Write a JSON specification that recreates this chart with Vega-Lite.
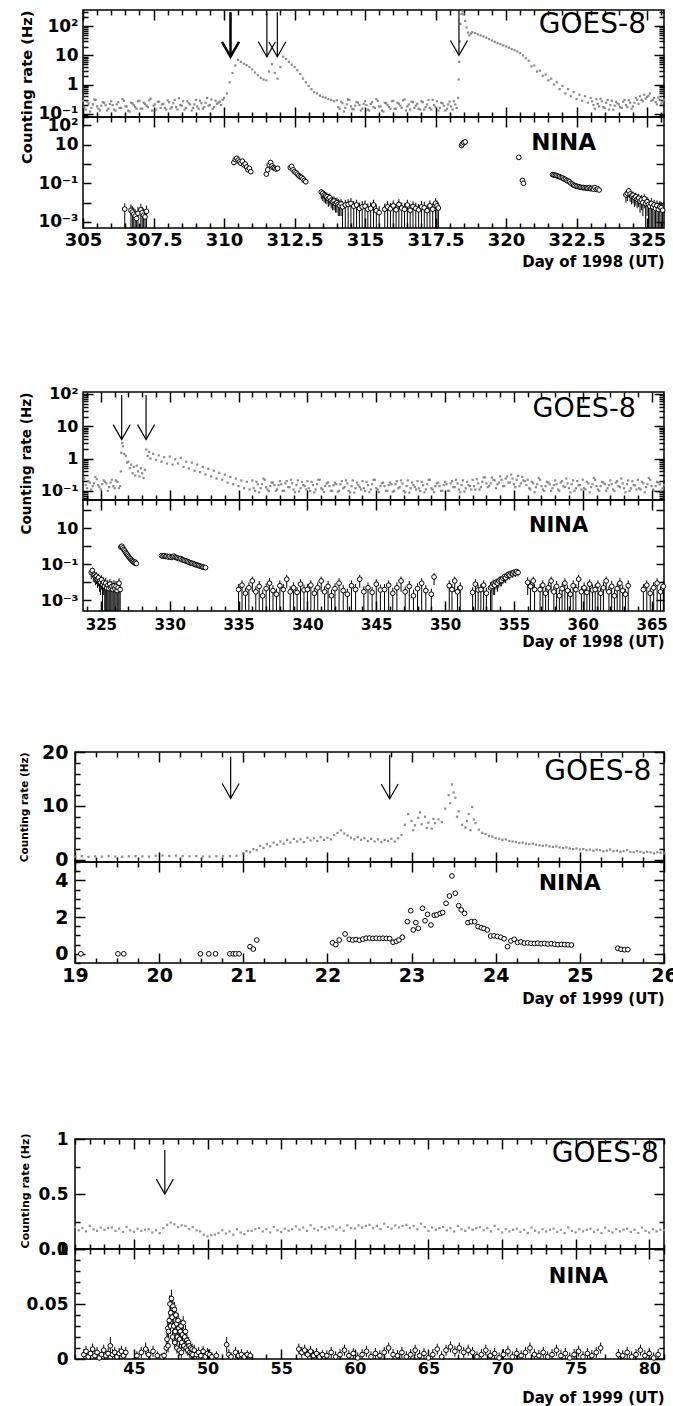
{
"$schema":"https://vega.github.io/schema/vega-lite/v6.json",
"background":"white",
"padding":{"left":17,"top":2,"right":0,"bottom":0},
"config":{"view":{"stroke":"black","strokeWidth":1.5},"axis":{"domain":false,"grid":false,"ticks":true,"tickColor":"black","tickWidth":1.5,"tickOpacity":1,"zindex":1,"labelColor":"black","titleColor":"black","labelFont":"DejaVu Sans","titleFont":"DejaVu Sans","labelFontWeight":"bold","titleFontWeight":"bold","labelOverlap":false,"labelFlush":false,"labelBound":false}},
"datasets":{
"g1":[{"d":305.0,"r":0.28},{"d":305.1,"r":0.14},{"d":305.2,"r":0.22},{"d":305.3,"r":0.16},{"d":305.4,"r":0.31},{"d":305.5,"r":0.18},{"d":305.6,"r":0.13},{"d":305.7,"r":0.25},{"d":305.8,"r":0.2},{"d":305.9,"r":0.15},{"d":306.0,"r":0.27},{"d":306.1,"r":0.14},{"d":306.2,"r":0.21},{"d":306.3,"r":0.16},{"d":306.4,"r":0.32},{"d":306.5,"r":0.18},{"d":306.6,"r":0.13},{"d":306.7,"r":0.24},{"d":306.8,"r":0.2},{"d":306.9,"r":0.15},{"d":307.0,"r":0.28},{"d":307.1,"r":0.15},{"d":307.2,"r":0.22},{"d":307.3,"r":0.17},{"d":307.4,"r":0.33},{"d":307.5,"r":0.19},{"d":307.6,"r":0.14},{"d":307.7,"r":0.26},{"d":307.8,"r":0.21},{"d":307.9,"r":0.16},{"d":308.0,"r":0.29},{"d":308.1,"r":0.15},{"d":308.2,"r":0.23},{"d":308.3,"r":0.17},{"d":308.4,"r":0.34},{"d":308.5,"r":0.19},{"d":308.6,"r":0.14},{"d":308.7,"r":0.27},{"d":308.8,"r":0.21},{"d":308.9,"r":0.16},{"d":309.0,"r":0.3},{"d":309.1,"r":0.15},{"d":309.2,"r":0.23},{"d":309.3,"r":0.17},{"d":309.4,"r":0.35},{"d":309.5,"r":0.2},{"d":309.6,"r":0.15},{"d":309.7,"r":0.28},{"d":309.8,"r":0.24},{"d":309.9,"r":0.2},{"d":310.0,"r":0.35},{"d":310.1,"r":0.5},{"d":310.2,"r":1.2},{"d":310.3,"r":2.5},{"d":310.4,"r":4.5},{"d":310.5,"r":7},{"d":310.6,"r":6},{"d":310.7,"r":5.2},{"d":310.8,"r":4.6},{"d":310.9,"r":4},{"d":311.0,"r":3.3},{"d":311.1,"r":2.6},{"d":311.2,"r":2.1},{"d":311.3,"r":1.7},{"d":311.4,"r":1.5},{"d":311.5,"r":1.4},{"d":311.6,"r":2.8},{"d":311.7,"r":5},{"d":311.8,"r":2.5},{"d":311.9,"r":1.6},{"d":312.0,"r":4},{"d":312.1,"r":9},{"d":312.2,"r":7.5},{"d":312.3,"r":6},{"d":312.4,"r":4.8},{"d":312.5,"r":4},{"d":312.6,"r":3.1},{"d":312.7,"r":2.3},{"d":312.8,"r":1.6},{"d":312.9,"r":1.2},{"d":313.0,"r":0.9},{"d":313.1,"r":0.7},{"d":313.2,"r":0.55},{"d":313.3,"r":0.5},{"d":313.4,"r":0.42},{"d":313.5,"r":0.38},{"d":313.6,"r":0.36},{"d":313.7,"r":0.32},{"d":313.8,"r":0.3},{"d":313.9,"r":0.27},{"d":314.0,"r":0.29},{"d":314.1,"r":0.15},{"d":314.2,"r":0.23},{"d":314.3,"r":0.16},{"d":314.4,"r":0.31},{"d":314.5,"r":0.18},{"d":314.6,"r":0.14},{"d":314.7,"r":0.25},{"d":314.8,"r":0.2},{"d":314.9,"r":0.15},{"d":315.0,"r":0.27},{"d":315.1,"r":0.14},{"d":315.2,"r":0.22},{"d":315.3,"r":0.17},{"d":315.4,"r":0.32},{"d":315.5,"r":0.18},{"d":315.6,"r":0.13},{"d":315.7,"r":0.24},{"d":315.8,"r":0.2},{"d":315.9,"r":0.15},{"d":316.0,"r":0.28},{"d":316.1,"r":0.15},{"d":316.2,"r":0.22},{"d":316.3,"r":0.16},{"d":316.4,"r":0.31},{"d":316.5,"r":0.18},{"d":316.6,"r":0.14},{"d":316.7,"r":0.25},{"d":316.8,"r":0.19},{"d":316.9,"r":0.15},{"d":317.0,"r":0.27},{"d":317.1,"r":0.14},{"d":317.2,"r":0.21},{"d":317.3,"r":0.16},{"d":317.4,"r":0.3},{"d":317.5,"r":0.17},{"d":317.6,"r":0.13},{"d":317.7,"r":0.24},{"d":317.8,"r":0.19},{"d":317.9,"r":0.15},{"d":318.0,"r":0.26},{"d":318.1,"r":0.14},{"d":318.2,"r":0.21},{"d":318.3,"r":0.35},{"d":318.32,"r":1.5},{"d":318.34,"r":6},{"d":318.36,"r":30},{"d":318.38,"r":120},{"d":318.42,"r":260},{"d":318.46,"r":320},{"d":318.5,"r":250},{"d":318.55,"r":150},{"d":318.6,"r":90},{"d":318.65,"r":60},{"d":318.7,"r":48},{"d":318.75,"r":55},{"d":318.8,"r":62},{"d":318.9,"r":58},{"d":319.0,"r":52},{"d":319.1,"r":48},{"d":319.2,"r":44},{"d":319.3,"r":40},{"d":319.4,"r":36},{"d":319.5,"r":32},{"d":319.6,"r":29},{"d":319.7,"r":26},{"d":319.8,"r":24},{"d":319.9,"r":22},{"d":320.0,"r":20},{"d":320.1,"r":18.5},{"d":320.2,"r":16.5},{"d":320.3,"r":15},{"d":320.4,"r":13.5},{"d":320.5,"r":12},{"d":320.6,"r":10},{"d":320.7,"r":8},{"d":320.8,"r":6.5},{"d":320.9,"r":4.2},{"d":321.0,"r":4.5},{"d":321.1,"r":2.8},{"d":321.2,"r":3},{"d":321.3,"r":2},{"d":321.4,"r":2.2},{"d":321.5,"r":1.4},{"d":321.6,"r":1.6},{"d":321.7,"r":1},{"d":321.8,"r":1.2},{"d":321.9,"r":0.7},{"d":322.0,"r":0.9},{"d":322.1,"r":0.5},{"d":322.2,"r":0.7},{"d":322.3,"r":0.4},{"d":322.4,"r":0.55},{"d":322.5,"r":0.32},{"d":322.6,"r":0.45},{"d":322.7,"r":0.28},{"d":322.8,"r":0.4},{"d":322.9,"r":0.24},{"d":323.0,"r":0.35},{"d":323.1,"r":0.2},{"d":323.2,"r":0.32},{"d":323.3,"r":0.18},{"d":323.4,"r":0.27},{"d":323.5,"r":0.16},{"d":323.6,"r":0.3},{"d":323.7,"r":0.2},{"d":323.8,"r":0.14},{"d":323.9,"r":0.26},{"d":324.0,"r":0.21},{"d":324.1,"r":0.16},{"d":324.2,"r":0.3},{"d":324.3,"r":0.17},{"d":324.4,"r":0.24},{"d":324.5,"r":0.18},{"d":324.6,"r":0.35},{"d":324.7,"r":0.22},{"d":324.8,"r":0.3},{"d":324.9,"r":0.45},{"d":325.0,"r":0.38},{"d":325.1,"r":0.5},{"d":325.2,"r":0.3},{"d":325.3,"r":0.25},{"d":325.4,"r":0.36},{"d":325.5,"r":0.22},{"d":325.6,"r":0.3},
{"d":305.05,"r":0.17},{"d":305.15,"r":0.26},{"d":305.25,"r":0.12},{"d":305.35,"r":0.21},{"d":305.45,"r":0.3},{"d":305.55,"r":0.15},{"d":305.65,"r":0.19},{"d":305.75,"r":0.24},{"d":305.85,"r":0.13},{"d":305.95,"r":0.22},{"d":306.05,"r":0.2},{"d":306.15,"r":0.13},{"d":306.25,"r":0.25},{"d":306.35,"r":0.16},{"d":306.45,"r":0.28},{"d":306.55,"r":0.18},{"d":306.65,"r":0.12},{"d":306.75,"r":0.23},{"d":306.85,"r":0.17},{"d":306.95,"r":0.27},{"d":307.05,"r":0.15},{"d":307.15,"r":0.24},{"d":307.25,"r":0.19},{"d":307.35,"r":0.29},{"d":307.45,"r":0.13},{"d":307.55,"r":0.21},{"d":307.65,"r":0.26},{"d":307.75,"r":0.16},{"d":307.85,"r":0.22},{"d":307.95,"r":0.14},{"d":308.05,"r":0.25},{"d":308.15,"r":0.17},{"d":308.25,"r":0.3},{"d":308.35,"r":0.14},{"d":308.45,"r":0.2},{"d":308.55,"r":0.27},{"d":308.65,"r":0.16},{"d":308.75,"r":0.23},{"d":308.85,"r":0.13},{"d":308.95,"r":0.21},{"d":309.05,"r":0.18},{"d":309.15,"r":0.28},{"d":309.25,"r":0.15},{"d":309.35,"r":0.24},{"d":309.45,"r":0.19},{"d":309.55,"r":0.31},{"d":309.65,"r":0.17},{"d":309.75,"r":0.22},{"d":309.85,"r":0.26},{"d":309.95,"r":0.3},
{"d":314.05,"r":0.17},{"d":314.15,"r":0.26},{"d":314.25,"r":0.12},{"d":314.35,"r":0.21},{"d":314.45,"r":0.3},{"d":314.55,"r":0.15},{"d":314.65,"r":0.19},{"d":314.75,"r":0.24},{"d":314.85,"r":0.13},{"d":314.95,"r":0.22},{"d":315.05,"r":0.2},{"d":315.15,"r":0.13},{"d":315.25,"r":0.25},{"d":315.35,"r":0.16},{"d":315.45,"r":0.28},{"d":315.55,"r":0.18},{"d":315.65,"r":0.12},{"d":315.75,"r":0.23},{"d":315.85,"r":0.17},{"d":315.95,"r":0.27},{"d":316.05,"r":0.15},{"d":316.15,"r":0.24},{"d":316.25,"r":0.19},{"d":316.35,"r":0.29},{"d":316.45,"r":0.13},{"d":316.55,"r":0.21},{"d":316.65,"r":0.26},{"d":316.75,"r":0.16},{"d":316.85,"r":0.22},{"d":316.95,"r":0.14},{"d":317.05,"r":0.25},{"d":317.15,"r":0.17},{"d":317.25,"r":0.3},{"d":317.35,"r":0.14},{"d":317.45,"r":0.2},{"d":317.55,"r":0.27},{"d":317.65,"r":0.16},{"d":317.75,"r":0.23},{"d":317.85,"r":0.13},{"d":317.95,"r":0.21},{"d":318.05,"r":0.18},{"d":318.15,"r":0.27},{"d":318.25,"r":0.16},
{"d":323.05,"r":0.27},{"d":323.15,"r":0.15},{"d":323.25,"r":0.22},{"d":323.35,"r":0.33},{"d":323.45,"r":0.17},{"d":323.55,"r":0.24},{"d":323.65,"r":0.14},{"d":323.75,"r":0.28},{"d":323.85,"r":0.19},{"d":323.95,"r":0.23},{"d":324.05,"r":0.17},{"d":324.15,"r":0.26},{"d":324.25,"r":0.2},{"d":324.35,"r":0.29},{"d":324.45,"r":0.15},{"d":324.55,"r":0.24},{"d":324.65,"r":0.3},{"d":324.75,"r":0.4},{"d":324.85,"r":0.27},{"d":324.95,"r":0.33},{"d":325.05,"r":0.42},{"d":325.15,"r":0.28},{"d":325.25,"r":0.35},{"d":325.35,"r":0.21},{"d":325.45,"r":0.3},{"d":325.55,"r":0.26}],
"n1":[{"d":306.48,"r":0.0046,"lo":0.0001,"hi":0.009},{"d":306.7,"r":0.004,"lo":0.0001,"hi":0.008},{"d":306.75,"r":0.0032,"lo":0.0001,"hi":0.0065},{"d":306.8,"r":0.0025,"lo":0.0001,"hi":0.0055},{"d":306.85,"r":0.002,"lo":0.0001,"hi":0.0045},{"d":306.9,"r":0.0015,"lo":0.0001,"hi":0.0035},{"d":306.95,"r":0.0028,"lo":0.0001,"hi":0.006},{"d":307.05,"r":0.0042,"lo":0.0001,"hi":0.0085},{"d":307.1,"r":0.003,"lo":0.0001,"hi":0.006},{"d":307.15,"r":0.0022,"lo":0.0001,"hi":0.005},{"d":307.2,"r":0.0018,"lo":0.0001,"hi":0.004},{"d":307.25,"r":0.0035,"lo":0.0001,"hi":0.007},
{"d":310.35,"r":1.2},{"d":310.4,"r":1.7},{"d":310.45,"r":2.0},{"d":310.5,"r":1.6},{"d":310.55,"r":1.3},{"d":310.6,"r":1.1},{"d":310.65,"r":1.4},{"d":310.7,"r":0.9},{"d":310.75,"r":1.0},{"d":310.8,"r":0.7},{"d":310.85,"r":0.5},{"d":310.9,"r":0.6},{"d":310.95,"r":0.4},
{"d":311.5,"r":0.3},{"d":311.55,"r":0.5},{"d":311.6,"r":0.9},{"d":311.65,"r":1.2},{"d":311.7,"r":0.8},{"d":311.75,"r":0.65},{"d":311.8,"r":0.6},{"d":311.85,"r":0.55},{"d":311.9,"r":0.6},
{"d":312.35,"r":0.65},{"d":312.4,"r":0.75},{"d":312.45,"r":0.5},{"d":312.5,"r":0.4},{"d":312.55,"r":0.35},{"d":312.6,"r":0.3},{"d":312.65,"r":0.25},{"d":312.7,"r":0.22},{"d":312.75,"r":0.2},{"d":312.8,"r":0.17},{"d":312.85,"r":0.14},{"d":312.9,"r":0.12},
{"d":313.45,"r":0.035,"lo":0.015,"hi":0.05},{"d":313.5,"r":0.03,"lo":0.012,"hi":0.045},{"d":313.55,"r":0.025,"lo":0.01,"hi":0.04},{"d":313.6,"r":0.022,"lo":0.009,"hi":0.036},{"d":313.65,"r":0.02,"lo":0.008,"hi":0.033},{"d":313.7,"r":0.016,"lo":0.006,"hi":0.028},{"d":313.75,"r":0.018,"lo":0.007,"hi":0.03},{"d":313.8,"r":0.013,"lo":0.005,"hi":0.023},{"d":313.85,"r":0.011,"lo":0.004,"hi":0.02},{"d":313.9,"r":0.012,"lo":0.004,"hi":0.021},{"d":313.95,"r":0.009,"lo":0.003,"hi":0.017},{"d":314.0,"r":0.01,"lo":0.003,"hi":0.018},{"d":314.05,"r":0.008,"lo":0.002,"hi":0.015},{"d":314.1,"r":0.007,"lo":0.002,"hi":0.013},{"d":314.15,"r":0.0085,"lo":0.002,"hi":0.015},{"d":314.2,"r":0.006,"lo":0.0001,"hi":0.012},{"d":314.3,"r":0.0075,"lo":0.0001,"hi":0.014},
{"d":314.4,"r":0.008,"lo":0.0001,"hi":0.015},{"d":314.5,"r":0.009,"lo":0.0001,"hi":0.017},{"d":314.6,"r":0.0065,"lo":0.0001,"hi":0.012},{"d":314.7,"r":0.0075,"lo":0.0001,"hi":0.014},{"d":314.8,"r":0.005,"lo":0.0001,"hi":0.01},{"d":314.9,"r":0.006,"lo":0.0001,"hi":0.012},{"d":315.0,"r":0.0065,"lo":0.0001,"hi":0.013},{"d":315.1,"r":0.0045,"lo":0.0001,"hi":0.009},{"d":315.2,"r":0.005,"lo":0.0001,"hi":0.01},{"d":315.3,"r":0.0075,"lo":0.0001,"hi":0.014},{"d":315.4,"r":0.0038,"lo":0.0001,"hi":0.008},{"d":315.5,"r":0.003,"lo":0.0001,"hi":0.0065},{"d":315.7,"r":0.0045,"lo":0.0001,"hi":0.009},{"d":315.8,"r":0.006,"lo":0.0001,"hi":0.012},{"d":315.9,"r":0.0048,"lo":0.0001,"hi":0.0095},{"d":316.0,"r":0.0068,"lo":0.0001,"hi":0.013},{"d":316.1,"r":0.0042,"lo":0.0001,"hi":0.0085},{"d":316.2,"r":0.008,"lo":0.0001,"hi":0.015},{"d":316.3,"r":0.0052,"lo":0.0001,"hi":0.01},{"d":316.4,"r":0.0045,"lo":0.0001,"hi":0.009},{"d":316.5,"r":0.0075,"lo":0.0001,"hi":0.014},{"d":316.6,"r":0.004,"lo":0.0001,"hi":0.008},{"d":316.7,"r":0.0063,"lo":0.0001,"hi":0.012},{"d":316.8,"r":0.005,"lo":0.0001,"hi":0.01},{"d":316.9,"r":0.0042,"lo":0.0001,"hi":0.0085},{"d":317.0,"r":0.006,"lo":0.0001,"hi":0.012},{"d":317.1,"r":0.0054,"lo":0.0001,"hi":0.011},{"d":317.2,"r":0.0038,"lo":0.0001,"hi":0.008},{"d":317.3,"r":0.0068,"lo":0.0001,"hi":0.013},{"d":317.4,"r":0.0045,"lo":0.0001,"hi":0.009},{"d":317.5,"r":0.009,"lo":0.0001,"hi":0.017},{"d":317.55,"r":0.0068,"lo":0.0001,"hi":0.013},{"d":317.6,"r":0.0052,"lo":0.0001,"hi":0.01},
{"d":318.42,"r":9},{"d":318.45,"r":11},{"d":318.5,"r":13},{"d":318.55,"r":14},{"d":320.45,"r":2.2},{"d":320.58,"r":0.14},{"d":320.62,"r":0.1},
{"d":321.65,"r":0.28},{"d":321.7,"r":0.27},{"d":321.75,"r":0.26},{"d":321.8,"r":0.25},{"d":321.85,"r":0.23},{"d":321.9,"r":0.22},{"d":321.95,"r":0.2},{"d":322.0,"r":0.19},{"d":322.05,"r":0.17},{"d":322.1,"r":0.16},{"d":322.15,"r":0.14},{"d":322.2,"r":0.13},{"d":322.25,"r":0.12},{"d":322.3,"r":0.1},{"d":322.35,"r":0.09},{"d":322.4,"r":0.08},{"d":322.45,"r":0.075},{"d":322.5,"r":0.07},{"d":322.55,"r":0.068},{"d":322.6,"r":0.065},{"d":322.65,"r":0.062},{"d":322.7,"r":0.06},{"d":322.75,"r":0.06},{"d":322.8,"r":0.058},{"d":322.85,"r":0.057},{"d":322.9,"r":0.055},{"d":322.95,"r":0.06},{"d":323.0,"r":0.052},{"d":323.05,"r":0.055},{"d":323.1,"r":0.05},{"d":323.15,"r":0.06},{"d":323.2,"r":0.048},{"d":323.25,"r":0.052},{"d":323.3,"r":0.045},
{"d":324.25,"r":0.025,"lo":0.01,"hi":0.04},{"d":324.3,"r":0.03,"lo":0.012,"hi":0.045},{"d":324.35,"r":0.04,"lo":0.018,"hi":0.06},{"d":324.4,"r":0.028,"lo":0.011,"hi":0.043},{"d":324.45,"r":0.022,"lo":0.008,"hi":0.036},{"d":324.5,"r":0.024,"lo":0.009,"hi":0.038},{"d":324.55,"r":0.018,"lo":0.006,"hi":0.03},{"d":324.6,"r":0.02,"lo":0.007,"hi":0.033},{"d":324.65,"r":0.015,"lo":0.005,"hi":0.026},{"d":324.7,"r":0.017,"lo":0.006,"hi":0.029},{"d":324.75,"r":0.012,"lo":0.003,"hi":0.022},{"d":324.8,"r":0.014,"lo":0.004,"hi":0.025},{"d":324.85,"r":0.01,"lo":0.002,"hi":0.019},{"d":324.9,"r":0.016,"lo":0.005,"hi":0.028},{"d":324.95,"r":0.009,"lo":0.0001,"hi":0.017},{"d":325.0,"r":0.011,"lo":0.002,"hi":0.02},{"d":325.05,"r":0.008,"lo":0.0001,"hi":0.016},{"d":325.1,"r":0.0065,"lo":0.0001,"hi":0.013},{"d":325.15,"r":0.009,"lo":0.0001,"hi":0.017},{"d":325.2,"r":0.006,"lo":0.0001,"hi":0.012},{"d":325.25,"r":0.0075,"lo":0.0001,"hi":0.014},{"d":325.3,"r":0.005,"lo":0.0001,"hi":0.01},{"d":325.35,"r":0.007,"lo":0.0001,"hi":0.013},{"d":325.4,"r":0.0045,"lo":0.0001,"hi":0.009},{"d":325.45,"r":0.006,"lo":0.0001,"hi":0.012},{"d":325.5,"r":0.0055,"lo":0.0001,"hi":0.011},{"d":325.55,"r":0.004,"lo":0.0001,"hi":0.008}],
"g2":[{"d":323.8,"r":0.24},{"d":324.0,"r":0.12},{"d":324.2,"r":0.18},{"d":324.4,"r":0.14},{"d":324.6,"r":0.27},{"d":324.8,"r":0.15},{"d":325.0,"r":0.11},{"d":325.2,"r":0.21},{"d":325.4,"r":0.17},{"d":325.6,"r":0.13},{"d":325.8,"r":0.22},{"d":326.0,"r":0.12},{"d":326.2,"r":0.19},{"d":326.4,"r":0.14},{"d":326.45,"r":0.4},{"d":326.48,"r":1.5},{"d":326.5,"r":4.5},{"d":326.55,"r":3},{"d":326.6,"r":2.4},{"d":326.7,"r":1.4},{"d":326.8,"r":1.2},{"d":326.9,"r":0.75},{"d":327.0,"r":0.8},{"d":327.1,"r":0.5},{"d":327.2,"r":0.65},{"d":327.3,"r":0.35},{"d":327.4,"r":0.55},{"d":327.5,"r":0.3},{"d":327.6,"r":0.6},{"d":327.7,"r":0.4},{"d":327.8,"r":0.28},{"d":327.9,"r":0.5},{"d":328.0,"r":0.35},{"d":328.1,"r":0.25},{"d":328.2,"r":0.45},{"d":328.3,"r":1.9},{"d":328.4,"r":1.2},{"d":328.5,"r":1.6},{"d":328.6,"r":1.0},{"d":328.8,"r":1.4},{"d":329.0,"r":0.9},{"d":329.2,"r":1.25},{"d":329.4,"r":0.8},{"d":329.6,"r":1.1},{"d":329.8,"r":0.7},{"d":330.0,"r":1.15},{"d":330.2,"r":0.65},{"d":330.4,"r":0.95},{"d":330.6,"r":0.7},{"d":330.8,"r":1.05},{"d":331.0,"r":0.55},{"d":331.2,"r":0.8},{"d":331.4,"r":0.5},{"d":331.6,"r":0.75},{"d":331.8,"r":0.42},{"d":332.0,"r":0.65},{"d":332.2,"r":0.38},{"d":332.4,"r":0.55},{"d":332.6,"r":0.32},{"d":332.8,"r":0.48},{"d":333.0,"r":0.28},{"d":333.2,"r":0.42},{"d":333.4,"r":0.24},{"d":333.6,"r":0.36},{"d":333.8,"r":0.22},{"d":334.0,"r":0.32},{"d":334.2,"r":0.18},{"d":334.4,"r":0.27},{"d":334.6,"r":0.16},{"d":334.8,"r":0.24},{"d":335.0,"r":0.14},{"d":335.2,"r":0.21},{"d":335.4,"r":0.12},{"d":335.6,"r":0.19},{"d":335.8,"r":0.11},{"d":336.0,"r":0.21},{"d":336.2,"r":0.1},{"d":336.4,"r":0.16},{"d":336.6,"r":0.12},{"d":336.8,"r":0.24},{"d":337.0,"r":0.13},{"d":337.2,"r":0.098},{"d":337.4,"r":0.18},{"d":337.6,"r":0.15},{"d":337.8,"r":0.11},{"d":338.0,"r":0.2},{"d":338.2,"r":0.1},{"d":338.4,"r":0.17},{"d":338.6,"r":0.13},{"d":338.8,"r":0.22},{"d":339.0,"r":0.11},{"d":339.2,"r":0.15},{"d":339.4,"r":0.095},{"d":339.6,"r":0.19},{"d":339.8,"r":0.14},{"d":340.0,"r":0.2},{"d":340.2,"r":0.098},{"d":340.4,"r":0.15},{"d":340.6,"r":0.11},{"d":340.8,"r":0.22},{"d":341.0,"r":0.12},{"d":341.2,"r":0.091},{"d":341.4,"r":0.17},{"d":341.6,"r":0.14},{"d":341.8,"r":0.1},{"d":342.0,"r":0.18},{"d":342.2,"r":0.094},{"d":342.4,"r":0.16},{"d":342.6,"r":0.12},{"d":342.8,"r":0.21},{"d":343.0,"r":0.1},{"d":343.2,"r":0.14},{"d":343.4,"r":0.088},{"d":343.6,"r":0.18},{"d":343.8,"r":0.13},{"d":344.0,"r":0.2},{"d":344.2,"r":0.098},{"d":344.4,"r":0.15},{"d":344.6,"r":0.11},{"d":344.8,"r":0.22},{"d":345.0,"r":0.12},{"d":345.2,"r":0.091},{"d":345.4,"r":0.17},{"d":345.6,"r":0.14},{"d":345.8,"r":0.1},{"d":346.0,"r":0.18},{"d":346.2,"r":0.094},{"d":346.4,"r":0.16},{"d":346.6,"r":0.12},{"d":346.8,"r":0.21},{"d":347.0,"r":0.1},{"d":347.2,"r":0.14},{"d":347.4,"r":0.088},{"d":347.6,"r":0.18},{"d":347.8,"r":0.13},{"d":348.0,"r":0.2},{"d":348.2,"r":0.098},{"d":348.4,"r":0.15},{"d":348.6,"r":0.11},{"d":348.8,"r":0.22},{"d":349.0,"r":0.12},{"d":349.2,"r":0.091},{"d":349.4,"r":0.17},{"d":349.6,"r":0.14},{"d":349.8,"r":0.1},{"d":350.0,"r":0.19},{"d":350.2,"r":0.1},{"d":350.4,"r":0.17},{"d":350.6,"r":0.13},{"d":350.8,"r":0.22},{"d":351.0,"r":0.11},{"d":351.2,"r":0.15},{"d":351.4,"r":0.095},{"d":351.6,"r":0.19},{"d":351.8,"r":0.14},{"d":352.0,"r":0.22},{"d":352.2,"r":0.11},{"d":352.4,"r":0.17},{"d":352.6,"r":0.13},{"d":352.8,"r":0.26},{"d":353.0,"r":0.17},{"d":353.2,"r":0.14},{"d":353.4,"r":0.26},{"d":353.6,"r":0.21},{"d":353.8,"r":0.16},{"d":354.0,"r":0.28},{"d":354.2,"r":0.14},{"d":354.4,"r":0.24},{"d":354.6,"r":0.18},{"d":354.8,"r":0.32},{"d":355.0,"r":0.16},{"d":355.2,"r":0.22},{"d":355.4,"r":0.14},{"d":355.6,"r":0.27},{"d":355.8,"r":0.2},{"d":356.0,"r":0.22},{"d":356.2,"r":0.11},{"d":356.4,"r":0.17},{"d":356.6,"r":0.13},{"d":356.8,"r":0.25},{"d":357.0,"r":0.14},{"d":357.2,"r":0.1},{"d":357.4,"r":0.19},{"d":357.6,"r":0.16},{"d":357.8,"r":0.12},{"d":358.0,"r":0.21},{"d":358.2,"r":0.11},{"d":358.4,"r":0.18},{"d":358.6,"r":0.14},{"d":358.8,"r":0.24},{"d":359.0,"r":0.12},{"d":359.2,"r":0.16},{"d":359.4,"r":0.1},{"d":359.6,"r":0.2},{"d":359.8,"r":0.15},{"d":360.0,"r":0.22},{"d":360.2,"r":0.11},{"d":360.4,"r":0.17},{"d":360.6,"r":0.13},{"d":360.8,"r":0.25},{"d":361.0,"r":0.14},{"d":361.2,"r":0.1},{"d":361.4,"r":0.19},{"d":361.6,"r":0.16},{"d":361.8,"r":0.12},{"d":362.0,"r":0.21},{"d":362.2,"r":0.11},{"d":362.4,"r":0.18},{"d":362.6,"r":0.14},{"d":362.8,"r":0.24},{"d":363.0,"r":0.12},{"d":363.2,"r":0.16},{"d":363.4,"r":0.1},{"d":363.6,"r":0.2},{"d":363.8,"r":0.15},{"d":364.0,"r":0.22},{"d":364.2,"r":0.11},{"d":364.4,"r":0.17},{"d":364.6,"r":0.13},{"d":364.8,"r":0.25},{"d":365.0,"r":0.14},{"d":365.2,"r":0.1},{"d":365.4,"r":0.19},{"d":365.6,"r":0.16},{"d":365.8,"r":0.12},
{"d":323.9,"r":0.15},{"d":324.1,"r":0.2},{"d":324.3,"r":0.11},{"d":324.5,"r":0.17},{"d":324.7,"r":0.23},{"d":324.9,"r":0.13},{"d":325.1,"r":0.16},{"d":325.3,"r":0.19},{"d":325.5,"r":0.1},{"d":325.7,"r":0.18},{"d":325.9,"r":0.14},{"d":326.1,"r":0.21},{"d":326.3,"r":0.12},
{"d":336.1,"r":0.12},{"d":336.3,"r":0.19},{"d":336.5,"r":0.09},{"d":336.7,"r":0.16},{"d":336.9,"r":0.22},{"d":337.1,"r":0.11},{"d":337.3,"r":0.14},{"d":337.5,"r":0.18},{"d":337.7,"r":0.1},{"d":337.9,"r":0.15},{"d":338.1,"r":0.16},{"d":338.3,"r":0.1},{"d":338.5,"r":0.2},{"d":338.7,"r":0.13},{"d":338.9,"r":0.17},{"d":339.1,"r":0.09},{"d":339.3,"r":0.21},{"d":339.5,"r":0.12},{"d":339.7,"r":0.15},{"d":339.9,"r":0.11},{"d":340.1,"r":0.12},{"d":340.3,"r":0.19},{"d":340.5,"r":0.09},{"d":340.7,"r":0.16},{"d":340.9,"r":0.22},{"d":341.1,"r":0.11},{"d":341.3,"r":0.14},{"d":341.5,"r":0.18},{"d":341.7,"r":0.1},{"d":341.9,"r":0.15},{"d":342.1,"r":0.16},{"d":342.3,"r":0.1},{"d":342.5,"r":0.2},{"d":342.7,"r":0.13},{"d":342.9,"r":0.17},{"d":343.1,"r":0.09},{"d":343.3,"r":0.21},{"d":343.5,"r":0.12},{"d":343.7,"r":0.15},{"d":343.9,"r":0.11},{"d":344.1,"r":0.12},{"d":344.3,"r":0.19},{"d":344.5,"r":0.09},{"d":344.7,"r":0.16},{"d":344.9,"r":0.22},{"d":345.1,"r":0.11},{"d":345.3,"r":0.14},{"d":345.5,"r":0.18},{"d":345.7,"r":0.1},{"d":345.9,"r":0.15},{"d":346.1,"r":0.16},{"d":346.3,"r":0.1},{"d":346.5,"r":0.2},{"d":346.7,"r":0.13},{"d":346.9,"r":0.17},{"d":347.1,"r":0.09},{"d":347.3,"r":0.21},{"d":347.5,"r":0.12},{"d":347.7,"r":0.15},{"d":347.9,"r":0.11},{"d":348.1,"r":0.12},{"d":348.3,"r":0.19},{"d":348.5,"r":0.09},{"d":348.7,"r":0.16},{"d":348.9,"r":0.22},{"d":349.1,"r":0.11},{"d":349.3,"r":0.14},{"d":349.5,"r":0.18},{"d":349.7,"r":0.1},{"d":349.9,"r":0.15},{"d":350.1,"r":0.16},{"d":350.3,"r":0.1},{"d":350.5,"r":0.2},{"d":350.7,"r":0.13},{"d":350.9,"r":0.17},{"d":351.1,"r":0.09},{"d":351.3,"r":0.21},{"d":351.5,"r":0.12},{"d":351.7,"r":0.15},{"d":351.9,"r":0.11},{"d":352.1,"r":0.14},{"d":352.3,"r":0.23},{"d":352.5,"r":0.11},{"d":352.7,"r":0.19},{"d":352.9,"r":0.26},{"d":353.1,"r":0.13},{"d":353.3,"r":0.17},{"d":353.5,"r":0.22},{"d":353.7,"r":0.12},{"d":353.9,"r":0.18},{"d":354.1,"r":0.22},{"d":354.3,"r":0.14},{"d":354.5,"r":0.28},{"d":354.7,"r":0.18},{"d":354.9,"r":0.24},{"d":355.1,"r":0.13},{"d":355.3,"r":0.29},{"d":355.5,"r":0.17},{"d":355.7,"r":0.21},{"d":355.9,"r":0.15},{"d":356.1,"r":0.12},{"d":356.3,"r":0.19},{"d":356.5,"r":0.09},{"d":356.7,"r":0.16},{"d":356.9,"r":0.22},{"d":357.1,"r":0.11},{"d":357.3,"r":0.14},{"d":357.5,"r":0.18},{"d":357.7,"r":0.1},{"d":357.9,"r":0.15},{"d":358.1,"r":0.16},{"d":358.3,"r":0.1},{"d":358.5,"r":0.2},{"d":358.7,"r":0.13},{"d":358.9,"r":0.17},{"d":359.1,"r":0.09},{"d":359.3,"r":0.21},{"d":359.5,"r":0.12},{"d":359.7,"r":0.15},{"d":359.9,"r":0.11},{"d":360.1,"r":0.12},{"d":360.3,"r":0.19},{"d":360.5,"r":0.09},{"d":360.7,"r":0.16},{"d":360.9,"r":0.22},{"d":361.1,"r":0.11},{"d":361.3,"r":0.14},{"d":361.5,"r":0.18},{"d":361.7,"r":0.1},{"d":361.9,"r":0.15},{"d":362.1,"r":0.16},{"d":362.3,"r":0.1},{"d":362.5,"r":0.2},{"d":362.7,"r":0.13},{"d":362.9,"r":0.17},{"d":363.1,"r":0.09},{"d":363.3,"r":0.21},{"d":363.5,"r":0.12},{"d":363.7,"r":0.15},{"d":363.9,"r":0.11},{"d":364.1,"r":0.12},{"d":364.3,"r":0.19},{"d":364.5,"r":0.09},{"d":364.7,"r":0.16},{"d":364.9,"r":0.22},{"d":365.1,"r":0.11},{"d":365.3,"r":0.14},{"d":365.5,"r":0.18},{"d":365.7,"r":0.1},{"d":365.9,"r":0.15}],
"n2":[{"d":324.3,"r":0.035,"lo":0.015,"hi":0.05},{"d":324.38,"r":0.045,"lo":0.02,"hi":0.065},{"d":324.45,"r":0.028,"lo":0.011,"hi":0.043},{"d":324.52,"r":0.025,"lo":0.01,"hi":0.04},{"d":324.6,"r":0.02,"lo":0.007,"hi":0.033},{"d":324.68,"r":0.022,"lo":0.008,"hi":0.036},{"d":324.75,"r":0.015,"lo":0.005,"hi":0.026},{"d":324.82,"r":0.018,"lo":0.006,"hi":0.03},{"d":324.9,"r":0.012,"lo":0.003,"hi":0.022},{"d":324.98,"r":0.01,"lo":0.002,"hi":0.019},{"d":325.05,"r":0.014,"lo":0.004,"hi":0.025},{"d":325.12,"r":0.008,"lo":0.0001,"hi":0.016},{"d":325.2,"r":0.01,"lo":0.002,"hi":0.019},{"d":325.28,"r":0.006,"lo":0.0001,"hi":0.012},{"d":325.35,"r":0.009,"lo":0.0001,"hi":0.017},{"d":325.42,"r":0.005,"lo":0.0001,"hi":0.01},{"d":325.5,"r":0.007,"lo":0.0001,"hi":0.013},{"d":325.58,"r":0.0045,"lo":0.0001,"hi":0.009},{"d":325.65,"r":0.008,"lo":0.0001,"hi":0.015},{"d":325.72,"r":0.005,"lo":0.0001,"hi":0.01},{"d":325.8,"r":0.006,"lo":0.0001,"hi":0.012},{"d":325.88,"r":0.004,"lo":0.0001,"hi":0.008},{"d":325.95,"r":0.0065,"lo":0.0001,"hi":0.013},{"d":326.02,"r":0.0045,"lo":0.0001,"hi":0.009},{"d":326.1,"r":0.006,"lo":0.0001,"hi":0.012},{"d":326.18,"r":0.0035,"lo":0.0001,"hi":0.007},{"d":326.25,"r":0.005,"lo":0.0001,"hi":0.01},{"d":326.32,"r":0.009,"lo":0.0001,"hi":0.017},{"d":326.4,"r":0.004,"lo":0.0001,"hi":0.008},
{"d":326.45,"r":0.9},{"d":326.52,"r":1.0},{"d":326.59,"r":0.8},{"d":326.66,"r":0.65},{"d":326.73,"r":0.55},{"d":326.8,"r":0.45},{"d":326.87,"r":0.38},{"d":326.94,"r":0.32},{"d":327.01,"r":0.27},{"d":327.08,"r":0.23},{"d":327.15,"r":0.2},{"d":327.22,"r":0.17},{"d":327.29,"r":0.15},{"d":327.36,"r":0.14},{"d":327.43,"r":0.12},{"d":327.5,"r":0.13},{"d":327.57,"r":0.11},
{"d":329.4,"r":0.3},{"d":329.5,"r":0.28},{"d":329.6,"r":0.3},{"d":329.7,"r":0.27},{"d":329.8,"r":0.28},{"d":329.9,"r":0.25},{"d":330.0,"r":0.27},{"d":330.1,"r":0.24},{"d":330.2,"r":0.26},{"d":330.3,"r":0.28},{"d":330.4,"r":0.25},{"d":330.5,"r":0.23},{"d":330.6,"r":0.22},{"d":330.7,"r":0.2},{"d":330.8,"r":0.21},{"d":330.9,"r":0.18},{"d":331.0,"r":0.17},{"d":331.1,"r":0.16},{"d":331.2,"r":0.15},{"d":331.3,"r":0.14},{"d":331.4,"r":0.13},{"d":331.5,"r":0.12},{"d":331.6,"r":0.115},{"d":331.7,"r":0.11},{"d":331.8,"r":0.1},{"d":331.9,"r":0.095},{"d":332.0,"r":0.09},{"d":332.1,"r":0.085},{"d":332.2,"r":0.08},{"d":332.3,"r":0.075},{"d":332.4,"r":0.07},{"d":332.5,"r":0.068},{"d":332.6,"r":0.065},
{"d":335.0,"r":0.004,"lo":0.0001,"hi":0.008},{"d":335.25,"r":0.007,"lo":0.0001,"hi":0.013},{"d":335.5,"r":0.0025,"lo":0.0001,"hi":0.005},{"d":335.75,"r":0.005,"lo":0.0001,"hi":0.01},{"d":336.0,"r":0.012,"lo":0.003,"hi":0.021},{"d":336.25,"r":0.003,"lo":0.0001,"hi":0.006},{"d":336.5,"r":0.006,"lo":0.0001,"hi":0.012},{"d":336.75,"r":0.0018,"lo":0.0001,"hi":0.004},{"d":337.0,"r":0.0045,"lo":0.0001,"hi":0.009},{"d":337.25,"r":0.009,"lo":0.0001,"hi":0.017},{"d":337.5,"r":0.0035,"lo":0.0001,"hi":0.007},{"d":337.75,"r":0.0022,"lo":0.0001,"hi":0.0045},{"d":338.0,"r":0.0065,"lo":0.0001,"hi":0.013},{"d":338.25,"r":0.004,"lo":0.0001,"hi":0.008},{"d":338.5,"r":0.015,"lo":0.005,"hi":0.026},{"d":338.75,"r":0.003,"lo":0.0001,"hi":0.006},{"d":339.0,"r":0.005,"lo":0.0001,"hi":0.01},{"d":339.25,"r":0.0028,"lo":0.0001,"hi":0.0055},{"d":339.5,"r":0.008,"lo":0.0001,"hi":0.015},{"d":339.75,"r":0.0038,"lo":0.0001,"hi":0.0075},{"d":340.0,"r":0.004,"lo":0.0001,"hi":0.008},{"d":340.25,"r":0.007,"lo":0.0001,"hi":0.013},{"d":340.5,"r":0.0025,"lo":0.0001,"hi":0.005},{"d":340.75,"r":0.005,"lo":0.0001,"hi":0.01},{"d":341.0,"r":0.012,"lo":0.003,"hi":0.021},{"d":341.25,"r":0.003,"lo":0.0001,"hi":0.006},{"d":341.5,"r":0.006,"lo":0.0001,"hi":0.012},{"d":341.75,"r":0.0018,"lo":0.0001,"hi":0.004},{"d":342.0,"r":0.0045,"lo":0.0001,"hi":0.009},{"d":342.3,"r":0.009,"lo":0.0001,"hi":0.017},{"d":342.6,"r":0.0035,"lo":0.0001,"hi":0.007},{"d":342.9,"r":0.0022,"lo":0.0001,"hi":0.0045},{"d":343.2,"r":0.0065,"lo":0.0001,"hi":0.013},{"d":343.5,"r":0.004,"lo":0.0001,"hi":0.008},{"d":343.8,"r":0.015,"lo":0.005,"hi":0.026},{"d":344.1,"r":0.003,"lo":0.0001,"hi":0.006},{"d":344.4,"r":0.005,"lo":0.0001,"hi":0.01},{"d":344.7,"r":0.0028,"lo":0.0001,"hi":0.0055},{"d":345.0,"r":0.008,"lo":0.0001,"hi":0.015},{"d":345.3,"r":0.0038,"lo":0.0001,"hi":0.0075},{"d":345.6,"r":0.004,"lo":0.0001,"hi":0.008},{"d":345.9,"r":0.007,"lo":0.0001,"hi":0.013},{"d":346.2,"r":0.0025,"lo":0.0001,"hi":0.005},{"d":346.5,"r":0.005,"lo":0.0001,"hi":0.01},{"d":346.8,"r":0.012,"lo":0.003,"hi":0.021},{"d":347.1,"r":0.003,"lo":0.0001,"hi":0.006},{"d":347.4,"r":0.006,"lo":0.0001,"hi":0.012},{"d":347.7,"r":0.0018,"lo":0.0001,"hi":0.004},{"d":348.0,"r":0.0045,"lo":0.0001,"hi":0.009},{"d":348.3,"r":0.009,"lo":0.0001,"hi":0.017},{"d":348.6,"r":0.0035,"lo":0.0001,"hi":0.007},{"d":349.0,"r":0.0022,"lo":0.0001,"hi":0.0045},{"d":349.2,"r":0.02,"lo":0.007,"hi":0.033},
{"d":350.3,"r":0.0065,"lo":0.0001,"hi":0.013},{"d":350.5,"r":0.004,"lo":0.0001,"hi":0.008},{"d":350.7,"r":0.012,"lo":0.003,"hi":0.021},{"d":350.9,"r":0.003,"lo":0.0001,"hi":0.006},{"d":351.1,"r":0.005,"lo":0.0001,"hi":0.01},{"d":352.0,"r":0.0028,"lo":0.0001,"hi":0.0055},{"d":352.2,"r":0.008,"lo":0.0001,"hi":0.015},{"d":352.4,"r":0.0038,"lo":0.0001,"hi":0.0075},{"d":352.6,"r":0.004,"lo":0.0001,"hi":0.008},{"d":352.8,"r":0.007,"lo":0.0001,"hi":0.013},{"d":353.0,"r":0.0025,"lo":0.0001,"hi":0.005},
{"d":353.3,"r":0.005,"lo":0.0001,"hi":0.01},{"d":353.4,"r":0.006,"lo":0.0001,"hi":0.011},{"d":353.5,"r":0.008,"lo":0.002,"hi":0.014},{"d":353.6,"r":0.007,"lo":0.002,"hi":0.012},{"d":353.7,"r":0.01,"lo":0.004,"hi":0.016},{"d":353.8,"r":0.009,"lo":0.003,"hi":0.015},{"d":353.9,"r":0.012,"lo":0.005,"hi":0.019},{"d":354.0,"r":0.014,"lo":0.006,"hi":0.022},{"d":354.1,"r":0.013,"lo":0.006,"hi":0.02},{"d":354.2,"r":0.017,"lo":0.008,"hi":0.026},{"d":354.3,"r":0.02,"lo":0.01,"hi":0.03},{"d":354.4,"r":0.018,"lo":0.009,"hi":0.027},{"d":354.5,"r":0.024,"lo":0.013,"hi":0.035},{"d":354.6,"r":0.028,"lo":0.016,"hi":0.04},{"d":354.7,"r":0.025,"lo":0.014,"hi":0.036},{"d":354.8,"r":0.032,"lo":0.02,"hi":0.045},{"d":354.9,"r":0.03,"lo":0.018,"hi":0.042},{"d":355.0,"r":0.036,"lo":0.022,"hi":0.05},{"d":355.1,"r":0.033,"lo":0.02,"hi":0.046},{"d":355.2,"r":0.04,"lo":0.025,"hi":0.055},{"d":355.3,"r":0.035,"lo":0.021,"hi":0.049},
{"d":356.0,"r":0.01,"lo":0.002,"hi":0.019},{"d":356.2,"r":0.006,"lo":0.0001,"hi":0.012},{"d":356.4,"r":0.012,"lo":0.003,"hi":0.021},{"d":356.5,"r":0.004,"lo":0.0001,"hi":0.008},
{"d":356.9,"r":0.004,"lo":0.0001,"hi":0.008},{"d":357.1,"r":0.007,"lo":0.0001,"hi":0.013},{"d":357.3,"r":0.0025,"lo":0.0001,"hi":0.005},{"d":357.5,"r":0.005,"lo":0.0001,"hi":0.01},{"d":357.7,"r":0.012,"lo":0.003,"hi":0.021},{"d":357.9,"r":0.003,"lo":0.0001,"hi":0.006},{"d":358.1,"r":0.006,"lo":0.0001,"hi":0.012},{"d":358.3,"r":0.0018,"lo":0.0001,"hi":0.004},{"d":358.5,"r":0.0045,"lo":0.0001,"hi":0.009},{"d":358.7,"r":0.009,"lo":0.0001,"hi":0.017},{"d":358.9,"r":0.0035,"lo":0.0001,"hi":0.007},{"d":359.1,"r":0.0022,"lo":0.0001,"hi":0.0045},{"d":359.3,"r":0.0065,"lo":0.0001,"hi":0.013},{"d":359.5,"r":0.004,"lo":0.0001,"hi":0.008},{"d":359.7,"r":0.015,"lo":0.005,"hi":0.026},{"d":359.9,"r":0.003,"lo":0.0001,"hi":0.006},{"d":360.1,"r":0.005,"lo":0.0001,"hi":0.01},{"d":360.3,"r":0.0028,"lo":0.0001,"hi":0.0055},{"d":360.5,"r":0.008,"lo":0.0001,"hi":0.015},{"d":360.7,"r":0.0038,"lo":0.0001,"hi":0.0075},{"d":360.9,"r":0.004,"lo":0.0001,"hi":0.008},{"d":361.1,"r":0.007,"lo":0.0001,"hi":0.013},{"d":361.3,"r":0.0025,"lo":0.0001,"hi":0.005},{"d":361.5,"r":0.005,"lo":0.0001,"hi":0.01},{"d":361.7,"r":0.012,"lo":0.003,"hi":0.021},{"d":361.9,"r":0.003,"lo":0.0001,"hi":0.006},{"d":362.1,"r":0.006,"lo":0.0001,"hi":0.012},{"d":362.3,"r":0.0018,"lo":0.0001,"hi":0.004},{"d":362.5,"r":0.0045,"lo":0.0001,"hi":0.009},{"d":362.7,"r":0.009,"lo":0.0001,"hi":0.017},{"d":362.9,"r":0.0035,"lo":0.0001,"hi":0.007},{"d":363.1,"r":0.0022,"lo":0.0001,"hi":0.0045},{"d":363.3,"r":0.0065,"lo":0.0001,"hi":0.013},
{"d":364.4,"r":0.004,"lo":0.0001,"hi":0.008},{"d":364.65,"r":0.007,"lo":0.0001,"hi":0.013},{"d":364.9,"r":0.0025,"lo":0.0001,"hi":0.005},{"d":365.15,"r":0.005,"lo":0.0001,"hi":0.01},{"d":365.4,"r":0.009,"lo":0.0001,"hi":0.017},{"d":365.65,"r":0.003,"lo":0.0001,"hi":0.006},{"d":365.85,"r":0.006,"lo":0.0001,"hi":0.012}],
"g3":[{"d":19.0,"r":0.6},{"d":19.08,"r":0.7},{"d":19.16,"r":0.55},{"d":19.24,"r":0.65},{"d":19.32,"r":0.6},{"d":19.4,"r":0.7},{"d":19.48,"r":0.62},{"d":19.56,"r":0.58},{"d":19.64,"r":0.66},{"d":19.72,"r":0.7},{"d":19.8,"r":0.64},{"d":19.88,"r":0.6},{"d":19.96,"r":0.75},{"d":20.04,"r":0.8},{"d":20.12,"r":0.72},{"d":20.2,"r":0.78},{"d":20.28,"r":0.7},{"d":20.36,"r":0.65},{"d":20.44,"r":0.7},{"d":20.52,"r":0.62},{"d":20.6,"r":0.6},{"d":20.68,"r":0.66},{"d":20.76,"r":0.7},{"d":20.84,"r":0.68},{"d":20.92,"r":0.75},{"d":21.0,"r":1.2},{"d":21.04,"r":1.6},{"d":21.08,"r":1.4},{"d":21.12,"r":2.0},{"d":21.16,"r":1.8},{"d":21.2,"r":2.6},{"d":21.24,"r":2.2},{"d":21.28,"r":2.9},{"d":21.32,"r":2.5},{"d":21.36,"r":3.2},{"d":21.4,"r":2.8},{"d":21.44,"r":3.4},{"d":21.48,"r":3.0},{"d":21.52,"r":3.7},{"d":21.56,"r":3.2},{"d":21.6,"r":3.9},{"d":21.64,"r":3.4},{"d":21.68,"r":3.8},{"d":21.72,"r":3.3},{"d":21.76,"r":4.1},{"d":21.8,"r":3.6},{"d":21.84,"r":4.0},{"d":21.88,"r":3.5},{"d":21.92,"r":4.2},{"d":21.96,"r":3.7},{"d":22.0,"r":4.1},{"d":22.04,"r":3.8},{"d":22.08,"r":4.6},{"d":22.12,"r":5.0},{"d":22.16,"r":5.5},{"d":22.2,"r":4.9},{"d":22.24,"r":4.5},{"d":22.28,"r":4.1},{"d":22.32,"r":3.8},{"d":22.36,"r":4.2},{"d":22.4,"r":3.7},{"d":22.44,"r":4.0},{"d":22.48,"r":3.5},{"d":22.52,"r":3.9},{"d":22.56,"r":3.4},{"d":22.6,"r":3.8},{"d":22.64,"r":3.3},{"d":22.68,"r":3.7},{"d":22.72,"r":3.5},{"d":22.76,"r":3.9},{"d":22.8,"r":3.4},{"d":22.84,"r":4.0},{"d":22.88,"r":4.6},{"d":22.92,"r":6.5},{"d":22.96,"r":8.5},{"d":23.0,"r":7.2},{"d":23.02,"r":5.5},{"d":23.04,"r":6.4},{"d":23.08,"r":7.8},{"d":23.1,"r":8.8},{"d":23.12,"r":6.6},{"d":23.16,"r":8.0},{"d":23.18,"r":5.9},{"d":23.2,"r":6.9},{"d":23.24,"r":5.8},{"d":23.26,"r":7.6},{"d":23.28,"r":6.8},{"d":23.32,"r":7.5},{"d":23.36,"r":7.0},{"d":23.4,"r":9.5},{"d":23.44,"r":12},{"d":23.46,"r":10.5},{"d":23.48,"r":14},{"d":23.5,"r":12.5},{"d":23.52,"r":11.5},{"d":23.54,"r":8},{"d":23.56,"r":9},{"d":23.6,"r":6.5},{"d":23.64,"r":6.0},{"d":23.66,"r":7.2},{"d":23.68,"r":8.5},{"d":23.7,"r":5.5},{"d":23.72,"r":9.8},{"d":23.74,"r":7.5},{"d":23.76,"r":6.8},{"d":23.8,"r":5.6},{"d":23.84,"r":5.0},{"d":23.88,"r":4.8},{"d":23.92,"r":4.4},{"d":23.96,"r":4.3},{"d":24.0,"r":4.0},{"d":24.04,"r":3.9},{"d":24.08,"r":3.7},{"d":24.12,"r":3.8},{"d":24.16,"r":3.5},{"d":24.2,"r":3.4},{"d":24.24,"r":3.3},{"d":24.28,"r":3.1},{"d":24.32,"r":3.2},{"d":24.36,"r":3.0},{"d":24.4,"r":2.9},{"d":24.44,"r":3.0},{"d":24.48,"r":2.8},{"d":24.52,"r":2.7},{"d":24.56,"r":2.6},{"d":24.6,"r":2.7},{"d":24.64,"r":2.5},{"d":24.68,"r":2.4},{"d":24.72,"r":2.5},{"d":24.76,"r":2.3},{"d":24.8,"r":2.2},{"d":24.84,"r":2.3},{"d":24.88,"r":2.1},{"d":24.92,"r":2.0},{"d":24.96,"r":2.1},{"d":25.0,"r":1.9},{"d":25.04,"r":2.0},{"d":25.08,"r":1.8},{"d":25.12,"r":1.9},{"d":25.16,"r":1.7},{"d":25.2,"r":1.9},{"d":25.24,"r":1.8},{"d":25.28,"r":1.6},{"d":25.32,"r":1.7},{"d":25.36,"r":1.9},{"d":25.4,"r":1.6},{"d":25.44,"r":1.7},{"d":25.48,"r":1.5},{"d":25.52,"r":1.6},{"d":25.56,"r":1.8},{"d":25.6,"r":1.5},{"d":25.64,"r":1.4},{"d":25.68,"r":1.6},{"d":25.72,"r":1.5},{"d":25.76,"r":1.3},{"d":25.8,"r":1.5},{"d":25.84,"r":1.4},{"d":25.88,"r":1.2},{"d":25.92,"r":1.4},{"d":25.96,"r":1.3},{"d":26.0,"r":1.2}],
"n3":[{"d":19.07,"r":0},{"d":19.51,"r":0},{"d":19.58,"r":0},{"d":20.49,"r":0},{"d":20.59,"r":0},{"d":20.67,"r":0},{"d":20.84,"r":0},{"d":20.88,"r":0},{"d":20.91,"r":0},{"d":20.95,"r":0},{"d":21.08,"r":0.39},{"d":21.12,"r":0.26},{"d":21.16,"r":0.75},{"d":22.06,"r":0.6},{"d":22.1,"r":0.5},{"d":22.14,"r":0.75},{"d":22.21,"r":1.08},{"d":22.26,"r":0.79},{"d":22.3,"r":0.75},{"d":22.34,"r":0.78},{"d":22.38,"r":0.74},{"d":22.42,"r":0.8},{"d":22.46,"r":0.85},{"d":22.5,"r":0.86},{"d":22.54,"r":0.84},{"d":22.58,"r":0.85},{"d":22.62,"r":0.84},{"d":22.66,"r":0.85},{"d":22.7,"r":0.84},{"d":22.74,"r":0.83},{"d":22.78,"r":0.63},{"d":22.82,"r":0.68},{"d":22.85,"r":0.75},{"d":22.89,"r":0.9},{"d":22.95,"r":1.75},{"d":22.99,"r":2.35},{"d":23.02,"r":1.3},{"d":23.05,"r":1.7},{"d":23.08,"r":1.39},{"d":23.13,"r":2.48},{"d":23.16,"r":1.8},{"d":23.19,"r":2.15},{"d":23.23,"r":1.57},{"d":23.27,"r":2.1},{"d":23.3,"r":2.12},{"d":23.34,"r":2.2},{"d":23.37,"r":2.25},{"d":23.41,"r":2.75},{"d":23.45,"r":3.15},{"d":23.48,"r":4.24},{"d":23.52,"r":3.3},{"d":23.56,"r":2.62},{"d":23.59,"r":2.39},{"d":23.63,"r":2.2},{"d":23.67,"r":1.7},{"d":23.71,"r":1.75},{"d":23.75,"r":1.75},{"d":23.79,"r":1.48},{"d":23.83,"r":1.42},{"d":23.86,"r":1.38},{"d":23.9,"r":1.3},{"d":23.94,"r":0.97},{"d":23.98,"r":0.98},{"d":24.02,"r":0.95},{"d":24.06,"r":0.9},{"d":24.1,"r":0.82},{"d":24.14,"r":0.39},{"d":24.18,"r":0.7},{"d":24.22,"r":0.79},{"d":24.26,"r":0.62},{"d":24.3,"r":0.65},{"d":24.34,"r":0.58},{"d":24.38,"r":0.6},{"d":24.42,"r":0.57},{"d":24.46,"r":0.56},{"d":24.5,"r":0.58},{"d":24.54,"r":0.55},{"d":24.58,"r":0.56},{"d":24.62,"r":0.53},{"d":24.66,"r":0.55},{"d":24.7,"r":0.52},{"d":24.74,"r":0.5},{"d":24.78,"r":0.51},{"d":24.82,"r":0.5},{"d":24.86,"r":0.49},{"d":24.9,"r":0.48},{"d":25.45,"r":0.3},{"d":25.49,"r":0.24},{"d":25.53,"r":0.22},{"d":25.57,"r":0.23}],
"g4":[{"d":41.0,"r":0.2},{"d":41.25,"r":0.17},{"d":41.5,"r":0.19},{"d":41.75,"r":0.16},{"d":42.0,"r":0.21},{"d":42.25,"r":0.18},{"d":42.5,"r":0.165},{"d":42.75,"r":0.195},{"d":43.0,"r":0.175},{"d":43.25,"r":0.19},{"d":43.5,"r":0.195},{"d":43.75,"r":0.165},{"d":44.0,"r":0.185},{"d":44.25,"r":0.155},{"d":44.5,"r":0.2},{"d":44.75,"r":0.17},{"d":45.0,"r":0.155},{"d":45.25,"r":0.185},{"d":45.5,"r":0.165},{"d":45.75,"r":0.175},{"d":46.0,"r":0.18},{"d":46.25,"r":0.15},{"d":46.5,"r":0.17},{"d":46.75,"r":0.145},{"d":47.0,"r":0.19},{"d":47.25,"r":0.22},{"d":47.5,"r":0.24},{"d":47.75,"r":0.225},{"d":48.0,"r":0.2},{"d":48.25,"r":0.215},{"d":48.5,"r":0.21},{"d":48.75,"r":0.18},{"d":49.0,"r":0.2},{"d":49.25,"r":0.17},{"d":49.5,"r":0.16},{"d":49.75,"r":0.13},{"d":50.0,"r":0.115},{"d":50.25,"r":0.125},{"d":50.5,"r":0.13},{"d":50.75,"r":0.145},{"d":51.0,"r":0.17},{"d":51.25,"r":0.14},{"d":51.5,"r":0.16},{"d":51.75,"r":0.13},{"d":52.0,"r":0.18},{"d":52.25,"r":0.15},{"d":52.5,"r":0.135},{"d":52.75,"r":0.165},{"d":53.0,"r":0.165},{"d":53.25,"r":0.18},{"d":53.5,"r":0.19},{"d":53.75,"r":0.16},{"d":54.0,"r":0.18},{"d":54.25,"r":0.15},{"d":54.5,"r":0.2},{"d":54.75,"r":0.17},{"d":55.0,"r":0.155},{"d":55.25,"r":0.185},{"d":55.5,"r":0.165},{"d":55.75,"r":0.18},{"d":56.0,"r":0.205},{"d":56.25,"r":0.175},{"d":56.5,"r":0.195},{"d":56.75,"r":0.165},{"d":57.0,"r":0.215},{"d":57.25,"r":0.185},{"d":57.5,"r":0.17},{"d":57.75,"r":0.2},{"d":58.0,"r":0.18},{"d":58.25,"r":0.195},{"d":58.5,"r":0.205},{"d":58.75,"r":0.175},{"d":59.0,"r":0.195},{"d":59.25,"r":0.165},{"d":59.5,"r":0.215},{"d":59.75,"r":0.19},{"d":60.0,"r":0.185},{"d":60.25,"r":0.215},{"d":60.5,"r":0.195},{"d":60.75,"r":0.21},{"d":61.0,"r":0.22},{"d":61.25,"r":0.19},{"d":61.5,"r":0.21},{"d":61.75,"r":0.18},{"d":62.0,"r":0.23},{"d":62.25,"r":0.2},{"d":62.5,"r":0.185},{"d":62.75,"r":0.215},{"d":63.0,"r":0.195},{"d":63.25,"r":0.21},{"d":63.5,"r":0.22},{"d":63.75,"r":0.19},{"d":64.0,"r":0.21},{"d":64.25,"r":0.18},{"d":64.5,"r":0.23},{"d":64.75,"r":0.2},{"d":65.0,"r":0.165},{"d":65.25,"r":0.195},{"d":65.5,"r":0.175},{"d":65.75,"r":0.19},{"d":66.0,"r":0.2},{"d":66.25,"r":0.17},{"d":66.5,"r":0.19},{"d":66.75,"r":0.16},{"d":67.0,"r":0.21},{"d":67.25,"r":0.18},{"d":67.5,"r":0.165},{"d":67.75,"r":0.195},{"d":68.0,"r":0.175},{"d":68.25,"r":0.19},{"d":68.5,"r":0.2},{"d":68.75,"r":0.17},{"d":69.0,"r":0.19},{"d":69.25,"r":0.16},{"d":69.5,"r":0.21},{"d":69.75,"r":0.18},{"d":70.0,"r":0.15},{"d":70.25,"r":0.18},{"d":70.5,"r":0.16},{"d":70.75,"r":0.175},{"d":71.0,"r":0.185},{"d":71.25,"r":0.155},{"d":71.5,"r":0.175},{"d":71.75,"r":0.145},{"d":72.0,"r":0.195},{"d":72.25,"r":0.165},{"d":72.5,"r":0.15},{"d":72.75,"r":0.18},{"d":73.0,"r":0.16},{"d":73.25,"r":0.175},{"d":73.5,"r":0.185},{"d":73.75,"r":0.155},{"d":74.0,"r":0.175},{"d":74.25,"r":0.145},{"d":74.5,"r":0.195},{"d":74.75,"r":0.165},{"d":75.0,"r":0.15},{"d":75.25,"r":0.18},{"d":75.5,"r":0.16},{"d":75.75,"r":0.175},{"d":76.0,"r":0.185},{"d":76.25,"r":0.155},{"d":76.5,"r":0.175},{"d":76.75,"r":0.145},{"d":77.0,"r":0.195},{"d":77.25,"r":0.165},{"d":77.5,"r":0.15},{"d":77.75,"r":0.18},{"d":78.0,"r":0.16},{"d":78.25,"r":0.175},{"d":78.5,"r":0.185},{"d":78.75,"r":0.155},{"d":79.0,"r":0.175},{"d":79.25,"r":0.145},{"d":79.5,"r":0.195},{"d":79.75,"r":0.165},{"d":80.0,"r":0.15},{"d":80.25,"r":0.18},{"d":80.5,"r":0.16},{"d":80.75,"r":0.175},{"d":81.0,"r":0.17}],
"n4":[{"d":41.6,"r":0.004,"lo":0,"hi":0.009},{"d":41.75,"r":0.007,"lo":0.002,"hi":0.012},{"d":41.9,"r":0.002,"lo":0,"hi":0.006},{"d":42.05,"r":0.005,"lo":0,"hi":0.01},{"d":42.2,"r":0.009,"lo":0.004,"hi":0.014},{"d":42.35,"r":0.003,"lo":0,"hi":0.008},{"d":42.5,"r":0.006,"lo":0.001,"hi":0.011},{"d":42.65,"r":0.001,"lo":0,"hi":0.005},{"d":42.8,"r":0.004,"lo":0,"hi":0.009},{"d":42.95,"r":0.008,"lo":0.003,"hi":0.013},{"d":43.1,"r":0.003,"lo":0,"hi":0.008},{"d":43.25,"r":0.005,"lo":0,"hi":0.01},{"d":43.4,"r":0.012,"lo":0.006,"hi":0.02},{"d":43.55,"r":0.004,"lo":0,"hi":0.009},{"d":43.7,"r":0.006,"lo":0.001,"hi":0.011},{"d":43.85,"r":0.002,"lo":0,"hi":0.006},{"d":44.0,"r":0.005,"lo":0,"hi":0.01},{"d":44.15,"r":0.007,"lo":0.002,"hi":0.012},{"d":44.3,"r":0.003,"lo":0,"hi":0.008},{"d":44.45,"r":0.006,"lo":0.001,"hi":0.011},{"d":45.2,"r":0.003,"lo":0,"hi":0.007},{"d":45.5,"r":0.006,"lo":0.001,"hi":0.011},{"d":45.8,"r":0.009,"lo":0.004,"hi":0.015},{"d":46.0,"r":0.004,"lo":0,"hi":0.009},{"d":46.3,"r":0.007,"lo":0.002,"hi":0.012},{"d":46.6,"r":0.003,"lo":0,"hi":0.007},{"d":46.9,"r":0.002,"lo":0,"hi":0.005},{"d":47.05,"r":0.003,"lo":0,"hi":0.006},{"d":47.2,"r":0.01,"lo":0.005,"hi":0.015},{"d":47.25,"r":0.018,"lo":0.012,"hi":0.024},{"d":47.3,"r":0.028,"lo":0.021,"hi":0.035},{"d":47.32,"r":0.012,"lo":0.006,"hi":0.018},{"d":47.35,"r":0.025,"lo":0.018,"hi":0.032},{"d":47.4,"r":0.035,"lo":0.028,"hi":0.042},{"d":47.45,"r":0.05,"lo":0.042,"hi":0.058},{"d":47.48,"r":0.03,"lo":0.023,"hi":0.037},{"d":47.5,"r":0.042,"lo":0.035,"hi":0.05},{"d":47.55,"r":0.055,"lo":0.047,"hi":0.063},{"d":47.6,"r":0.038,"lo":0.031,"hi":0.045},{"d":47.62,"r":0.02,"lo":0.014,"hi":0.026},{"d":47.65,"r":0.048,"lo":0.041,"hi":0.055},{"d":47.7,"r":0.03,"lo":0.023,"hi":0.037},{"d":47.75,"r":0.045,"lo":0.038,"hi":0.052},{"d":47.78,"r":0.015,"lo":0.009,"hi":0.021},{"d":47.8,"r":0.025,"lo":0.018,"hi":0.032},{"d":47.85,"r":0.04,"lo":0.033,"hi":0.047},{"d":47.9,"r":0.032,"lo":0.025,"hi":0.039},{"d":47.92,"r":0.01,"lo":0.005,"hi":0.016},{"d":47.95,"r":0.02,"lo":0.014,"hi":0.026},{"d":48.0,"r":0.035,"lo":0.028,"hi":0.042},{"d":48.05,"r":0.028,"lo":0.021,"hi":0.035},{"d":48.08,"r":0.008,"lo":0.003,"hi":0.014},{"d":48.1,"r":0.018,"lo":0.012,"hi":0.024},{"d":48.15,"r":0.025,"lo":0.019,"hi":0.031},{"d":48.2,"r":0.03,"lo":0.024,"hi":0.036},{"d":48.22,"r":0.006,"lo":0.001,"hi":0.012},{"d":48.25,"r":0.015,"lo":0.009,"hi":0.021},{"d":48.3,"r":0.022,"lo":0.016,"hi":0.028},{"d":48.35,"r":0.033,"lo":0.027,"hi":0.039},{"d":48.4,"r":0.012,"lo":0.007,"hi":0.017},{"d":48.45,"r":0.02,"lo":0.014,"hi":0.026},{"d":48.5,"r":0.025,"lo":0.019,"hi":0.031},{"d":48.55,"r":0.01,"lo":0.005,"hi":0.015},{"d":48.6,"r":0.017,"lo":0.011,"hi":0.023},{"d":48.65,"r":0.008,"lo":0.003,"hi":0.013},{"d":48.7,"r":0.015,"lo":0.01,"hi":0.02},{"d":48.75,"r":0.012,"lo":0.007,"hi":0.017},{"d":48.8,"r":0.006,"lo":0.001,"hi":0.011},{"d":48.85,"r":0.01,"lo":0.005,"hi":0.015},{"d":48.9,"r":0.005,"lo":0,"hi":0.01},{"d":48.95,"r":0.009,"lo":0.004,"hi":0.014},{"d":49.0,"r":0.004,"lo":0,"hi":0.009},{"d":49.1,"r":0.008,"lo":0.003,"hi":0.013},{"d":49.25,"r":0.004,"lo":0,"hi":0.009},{"d":49.4,"r":0.006,"lo":0.001,"hi":0.011},{"d":49.55,"r":0.003,"lo":0,"hi":0.008},{"d":49.7,"r":0.007,"lo":0.002,"hi":0.012},{"d":49.85,"r":0.002,"lo":0,"hi":0.007},{"d":50.0,"r":0.005,"lo":0,"hi":0.01},{"d":50.15,"r":0.004,"lo":0,"hi":0.009},{"d":50.3,"r":0.002,"lo":0,"hi":0.006},{"d":50.6,"r":0.003,"lo":0,"hi":0.007},{"d":51.3,"r":0.013,"lo":0.006,"hi":0.02},{"d":51.45,"r":0.004,"lo":0,"hi":0.009},{"d":51.6,"r":0.002,"lo":0,"hi":0.006},{"d":51.9,"r":0.006,"lo":0.001,"hi":0.011},{"d":52.1,"r":0.003,"lo":0,"hi":0.008},{"d":52.3,"r":0.004,"lo":0,"hi":0.009},{"d":52.5,"r":0.002,"lo":0,"hi":0.006},{"d":52.7,"r":0.004,"lo":0,"hi":0.008},{"d":52.9,"r":0.003,"lo":0,"hi":0.007},{"d":56.2,"r":0.009,"lo":0.004,"hi":0.014},{"d":56.4,"r":0.006,"lo":0.001,"hi":0.011},{"d":56.6,"r":0.008,"lo":0.003,"hi":0.013},{"d":56.8,"r":0.004,"lo":0,"hi":0.009},{"d":57.0,"r":0.007,"lo":0.002,"hi":0.012},{"d":57.2,"r":0.003,"lo":0,"hi":0.008},{"d":57.4,"r":0.005,"lo":0,"hi":0.01},{"d":57.6,"r":0.002,"lo":0,"hi":0.006},{"d":57.8,"r":0.004,"lo":0,"hi":0.008},{"d":58.1,"r":0.003,"lo":0,"hi":0.008},{"d":58.4,"r":0.006,"lo":0.001,"hi":0.011},{"d":58.7,"r":0.002,"lo":0,"hi":0.007},{"d":59.0,"r":0.004,"lo":0,"hi":0.009},{"d":59.3,"r":0.008,"lo":0.003,"hi":0.013},{"d":59.6,"r":0.003,"lo":0,"hi":0.008},{"d":59.9,"r":0.005,"lo":0,"hi":0.01},{"d":60.2,"r":0.001,"lo":0,"hi":0.006},{"d":60.5,"r":0.004,"lo":0,"hi":0.009},{"d":60.8,"r":0.007,"lo":0.002,"hi":0.012},{"d":61.1,"r":0.002,"lo":0,"hi":0.007},{"d":61.4,"r":0.005,"lo":0,"hi":0.01},{"d":61.7,"r":0.003,"lo":0,"hi":0.008},{"d":62.0,"r":0.006,"lo":0.001,"hi":0.011},{"d":62.3,"r":0.01,"lo":0.005,"hi":0.015},{"d":62.6,"r":0.004,"lo":0,"hi":0.009},{"d":62.9,"r":0.003,"lo":0,"hi":0.008},{"d":63.2,"r":0.006,"lo":0.001,"hi":0.011},{"d":63.5,"r":0.002,"lo":0,"hi":0.007},{"d":63.8,"r":0.004,"lo":0,"hi":0.009},{"d":64.1,"r":0.008,"lo":0.003,"hi":0.013},{"d":64.4,"r":0.003,"lo":0,"hi":0.008},{"d":64.7,"r":0.005,"lo":0,"hi":0.01},{"d":65.0,"r":0.001,"lo":0,"hi":0.006},{"d":65.3,"r":0.004,"lo":0,"hi":0.009},{"d":65.6,"r":0.009,"lo":0.004,"hi":0.014},{"d":65.9,"r":0.002,"lo":0,"hi":0.007},{"d":66.2,"r":0.008,"lo":0.003,"hi":0.013},{"d":66.5,"r":0.011,"lo":0.006,"hi":0.016},{"d":66.8,"r":0.007,"lo":0.002,"hi":0.012},{"d":67.1,"r":0.01,"lo":0.005,"hi":0.015},{"d":67.4,"r":0.006,"lo":0.001,"hi":0.011},{"d":67.7,"r":0.008,"lo":0.003,"hi":0.013},{"d":68.0,"r":0.006,"lo":0.001,"hi":0.011},{"d":68.3,"r":0.002,"lo":0,"hi":0.007},{"d":68.6,"r":0.004,"lo":0,"hi":0.009},{"d":68.9,"r":0.008,"lo":0.003,"hi":0.013},{"d":69.2,"r":0.003,"lo":0,"hi":0.008},{"d":69.5,"r":0.005,"lo":0,"hi":0.01},{"d":69.8,"r":0.001,"lo":0,"hi":0.006},{"d":70.1,"r":0.004,"lo":0,"hi":0.009},{"d":70.4,"r":0.007,"lo":0.002,"hi":0.012},{"d":70.7,"r":0.002,"lo":0,"hi":0.007},{"d":71.0,"r":0.005,"lo":0,"hi":0.01},{"d":71.3,"r":0.003,"lo":0,"hi":0.008},{"d":71.6,"r":0.006,"lo":0.001,"hi":0.011},{"d":71.9,"r":0.01,"lo":0.005,"hi":0.015},{"d":72.2,"r":0.004,"lo":0,"hi":0.009},{"d":72.5,"r":0.003,"lo":0,"hi":0.008},{"d":72.8,"r":0.006,"lo":0.001,"hi":0.011},{"d":73.1,"r":0.002,"lo":0,"hi":0.007},{"d":73.4,"r":0.004,"lo":0,"hi":0.009},{"d":73.7,"r":0.008,"lo":0.003,"hi":0.013},{"d":74.0,"r":0.003,"lo":0,"hi":0.008},{"d":74.3,"r":0.005,"lo":0,"hi":0.01},{"d":74.6,"r":0.001,"lo":0,"hi":0.006},{"d":74.9,"r":0.004,"lo":0,"hi":0.009},{"d":75.2,"r":0.007,"lo":0.002,"hi":0.012},{"d":75.5,"r":0.002,"lo":0,"hi":0.007},{"d":75.8,"r":0.005,"lo":0,"hi":0.01},{"d":76.1,"r":0.003,"lo":0,"hi":0.008},{"d":76.4,"r":0.006,"lo":0.001,"hi":0.011},{"d":76.7,"r":0.01,"lo":0.005,"hi":0.015},{"d":77.9,"r":0.004,"lo":0,"hi":0.009},{"d":78.2,"r":0.003,"lo":0,"hi":0.008},{"d":78.5,"r":0.006,"lo":0.001,"hi":0.011},{"d":78.8,"r":0.002,"lo":0,"hi":0.007},{"d":79.1,"r":0.004,"lo":0,"hi":0.009},{"d":79.4,"r":0.008,"lo":0.003,"hi":0.013},{"d":79.7,"r":0.003,"lo":0,"hi":0.008},{"d":80.0,"r":0.005,"lo":0,"hi":0.01},{"d":80.3,"r":0.001,"lo":0,"hi":0.006},{"d":80.6,"r":0.004,"lo":0,"hi":0.009}]
},
"vconcat":[
{"hconcat":[
 {"width":1,"height":1,"view":{"stroke":null},"data":{"values":[]},"mark":"point"},
 {"vconcat":[
 {"vconcat":[
  {"width":581,"height":107,"layer":[
   {"data":{"name":"g1"},"mark":{"type":"square","size":5,"color":"#808080","opacity":0.9},"encoding":{
     "x":{"field":"d","type":"quantitative","scale":{"domain":[305,325.6],"nice":false,"zero":false},"axis":{"orient":"bottom","values":[305,305.5,306,306.5,307,307.5,308,308.5,309,309.5,310,310.5,311,311.5,312,312.5,313,313.5,314,314.5,315,315.5,316,316.5,317,317.5,318,318.5,319,319.5,320,320.5,321,321.5,322,322.5,323,323.5,324,324.5,325,325.5],"labels":false,"title":null,"offset":-10,"tickSize":10,"tickDash":{"condition":{"test":"datum.value % 2.5 === 0","value":[10,0]},"value":[5,5]},"tickDashOffset":{"condition":{"test":"datum.value % 2.5 === 0","value":0},"value":5}}},
     "y":{"field":"r","type":"quantitative","scale":{"type":"log","domain":[0.078,355],"nice":false},"axis":{"orient":"left","values":[0.08,0.09,0.1,0.2,0.3,0.4,0.5,0.6,0.7,0.8,0.9,1,2,3,4,5,6,7,8,9,10,20,30,40,50,60,70,80,90,100,200,300],"offset":-10,"tickSize":10,"tickDash":{"condition":{"test":"indexof([0.1,1,10,100],datum.value)>=0","value":[10,0]},"value":[5,5]},"tickDashOffset":{"condition":{"test":"indexof([0.1,1,10,100],datum.value)>=0","value":0},"value":5},"labelExpr":"datum.value==100?'10²':datum.value==10?'10':datum.value==1?'1':datum.value==0.1?'10⁻¹':''","labelFontSize":17,"labelPadding":5,"title":"Counting rate (Hz)","titleFontSize":14.7,"titleX":-74,"titleY":0,"titleAngle":270,"titleAlign":"right","titleBaseline":"top"}}}},
   {"data":{"values":[{"d":311.52,"top":300,"tip":9},{"d":311.89,"top":300,"tip":9},{"d":318.33,"top":345,"tip":10}]},"mark":{"type":"rule","color":"black","strokeWidth":1.2},"encoding":{"x":{"field":"d","type":"quantitative","scale":{"domain":[305,325.6],"nice":false,"zero":false},"axis":null},"y":{"field":"top","type":"quantitative","scale":{"type":"log","domain":[0.078,355],"nice":false},"axis":null},"y2":{"field":"tip"}}},
   {"data":{"values":[{"d":311.52,"top":300,"tip":9},{"d":311.89,"top":300,"tip":9},{"d":318.33,"top":345,"tip":10}]},"mark":{"type":"point","shape":"M-1,-1.75L0,0L1,-1.75","size":289,"filled":false,"color":"black","strokeWidth":1.2,"opacity":1},"encoding":{"x":{"field":"d","type":"quantitative","scale":{"domain":[305,325.6],"nice":false,"zero":false},"axis":null},"y":{"field":"tip","type":"quantitative","scale":{"type":"log","domain":[0.078,355],"nice":false},"axis":null}}},
   {"data":{"values":[{"d":310.23,"top":300,"tip":9}]},"mark":{"type":"rule","color":"black","strokeWidth":2.5},"encoding":{"x":{"field":"d","type":"quantitative","scale":{"domain":[305,325.6],"nice":false,"zero":false},"axis":null},"y":{"field":"top","type":"quantitative","scale":{"type":"log","domain":[0.078,355],"nice":false},"axis":null},"y2":{"field":"tip"}}},
   {"data":{"values":[{"d":310.23,"top":300,"tip":9}]},"mark":{"type":"point","shape":"M-1,-1.75L0,0L1,-1.75","size":289,"filled":false,"color":"black","strokeWidth":2.5,"opacity":1},"encoding":{"x":{"field":"d","type":"quantitative","scale":{"domain":[305,325.6],"nice":false,"zero":false},"axis":null},"y":{"field":"tip","type":"quantitative","scale":{"type":"log","domain":[0.078,355],"nice":false},"axis":null}}},
   {"data":{"values":[{"d":324.96,"r":58.5,"t":"GOES-8"}]},"mark":{"type":"text","font":"DejaVu Sans","fontSize":28,"align":"right","baseline":"alphabetic","color":"black"},"encoding":{
     "x":{"field":"d","type":"quantitative","scale":{"domain":[305,325.6],"nice":false,"zero":false},"axis":{"orient":"top","values":[305,305.5,306,306.5,307,307.5,308,308.5,309,309.5,310,310.5,311,311.5,312,312.5,313,313.5,314,314.5,315,315.5,316,316.5,317,317.5,318,318.5,319,319.5,320,320.5,321,321.5,322,322.5,323,323.5,324,324.5,325,325.5],"labels":false,"title":null,"offset":-10,"tickSize":10,"tickDash":{"condition":{"test":"datum.value % 2.5 === 0","value":[10,0]},"value":[5,5]},"tickDashOffset":{"condition":{"test":"datum.value % 2.5 === 0","value":0},"value":5}}},
     "y":{"field":"r","type":"quantitative","scale":{"type":"log","domain":[0.078,355],"nice":false},"axis":{"orient":"right","values":[0.08,0.09,0.1,0.2,0.3,0.4,0.5,0.6,0.7,0.8,0.9,1,2,3,4,5,6,7,8,9,10,20,30,40,50,60,70,80,90,100,200,300],"labels":false,"title":null,"offset":-10,"tickSize":10,"tickDash":{"condition":{"test":"indexof([0.1,1,10,100],datum.value)>=0","value":[10,0]},"value":[5,5]},"tickDashOffset":{"condition":{"test":"indexof([0.1,1,10,100],datum.value)>=0","value":0},"value":5}}},
     "text":{"field":"t"}}}
  ],"resolve":{"axis":{"x":"independent","y":"independent"}}},
  {"width":581,"height":111,"layer":[
   {"data":{"name":"n1"},"transform":[{"filter":"isValid(datum.lo)"}],"mark":{"type":"rule","color":"black","strokeWidth":1,"clip":true},"encoding":{"x":{"field":"d","type":"quantitative","scale":{"domain":[305,325.6],"nice":false,"zero":false},"axis":null},"y":{"field":"lo","type":"quantitative","scale":{"type":"log","domain":[0.00048,275],"nice":false},"axis":null},"y2":{"field":"hi"}}},
   {"data":{"name":"n1"},"mark":{"type":"point","shape":"circle","size":22,"filled":true,"fill":"white","stroke":"black","strokeWidth":1,"opacity":1},"encoding":{
     "x":{"field":"d","type":"quantitative","scale":{"domain":[305,325.6],"nice":false,"zero":false},"axis":{"orient":"bottom","values":[305,305.5,306,306.5,307,307.5,308,308.5,309,309.5,310,310.5,311,311.5,312,312.5,313,313.5,314,314.5,315,315.5,316,316.5,317,317.5,318,318.5,319,319.5,320,320.5,321,321.5,322,322.5,323,323.5,324,324.5,325,325.5],"offset":-10,"tickSize":10,"tickDash":{"condition":{"test":"datum.value % 2.5 === 0","value":[10,0]},"value":[5,5]},"tickDashOffset":{"condition":{"test":"datum.value % 2.5 === 0","value":0},"value":5},"labelExpr":"datum.value % 2.5 === 0 ? '' + datum.value : ''","labelFontSize":18,"labelPadding":3,"labelBaseline":"top","title":"Day of 1998 (UT)","titleFontSize":15,"titleX":581,"titleY":48.5,"titleAlign":"right","titleAnchor":"end","titleBaseline":"alphabetic"}},
     "y":{"field":"r","type":"quantitative","scale":{"type":"log","domain":[0.00048,275],"nice":false},"axis":{"orient":"left","values":[0.001,0.01,0.1,1,10,100],"offset":-8,"tickSize":8,"labelExpr":"datum.value==100?'10²':datum.value==10?'10':datum.value==0.1?'10⁻¹':datum.value==0.001?'10⁻³':''","labelFontSize":17,"labelPadding":5,"title":null}}}},
   {"data":{"values":[{"d":320.89,"r":5.3,"t":"NINA"}]},"mark":{"type":"text","font":"DejaVu Sans","fontWeight":"bold","fontSize":23,"align":"left","baseline":"alphabetic","color":"black"},"encoding":{
     "x":{"field":"d","type":"quantitative","scale":{"domain":[305,325.6],"nice":false,"zero":false},"axis":{"orient":"top","values":[305,305.5,306,306.5,307,307.5,308,308.5,309,309.5,310,310.5,311,311.5,312,312.5,313,313.5,314,314.5,315,315.5,316,316.5,317,317.5,318,318.5,319,319.5,320,320.5,321,321.5,322,322.5,323,323.5,324,324.5,325,325.5],"labels":false,"title":null,"offset":-10,"tickSize":10,"tickDash":{"condition":{"test":"datum.value % 2.5 === 0","value":[10,0]},"value":[5,5]},"tickDashOffset":{"condition":{"test":"datum.value % 2.5 === 0","value":0},"value":5}}},
     "y":{"field":"r","type":"quantitative","scale":{"type":"log","domain":[0.00048,275],"nice":false},"axis":{"orient":"right","values":[0.001,0.01,0.1,1,10,100],"labels":false,"title":null,"offset":-8,"tickSize":8}},
     "text":{"field":"t"}}}
  ],"resolve":{"axis":{"x":"independent","y":"independent"}}}
 ],"spacing":0,"bounds":"flush"},
 {"vconcat":[
  {"width":581,"height":108,"layer":[
   {"data":{"name":"g2"},"mark":{"type":"square","size":5,"color":"#808080","opacity":0.9},"encoding":{
     "x":{"field":"d","type":"quantitative","scale":{"domain":[323.7,365.9],"nice":false,"zero":false},"axis":{"orient":"bottom","values":[324,325,326,327,328,329,330,331,332,333,334,335,336,337,338,339,340,341,342,343,344,345,346,347,348,349,350,351,352,353,354,355,356,357,358,359,360,361,362,363,364,365],"labels":false,"title":null,"offset":-10,"tickSize":10,"tickDash":{"condition":{"test":"datum.value % 5 === 0","value":[10,0]},"value":[5,5]},"tickDashOffset":{"condition":{"test":"datum.value % 5 === 0","value":0},"value":5}}},
     "y":{"field":"r","type":"quantitative","scale":{"type":"log","domain":[0.052,115],"nice":false},"axis":{"orient":"left","values":[0.06,0.07,0.08,0.09,0.1,0.2,0.3,0.4,0.5,0.6,0.7,0.8,0.9,1,2,3,4,5,6,7,8,9,10,20,30,40,50,60,70,80,90,100],"offset":-10,"tickSize":10,"tickDash":{"condition":{"test":"indexof([0.1,1,10,100],datum.value)>=0","value":[10,0]},"value":[5,5]},"tickDashOffset":{"condition":{"test":"indexof([0.1,1,10,100],datum.value)>=0","value":0},"value":5},"labelExpr":"datum.value==100?'10²':datum.value==10?'10':datum.value==1?'1':datum.value==0.1?'10⁻¹':''","labelFontSize":16,"labelPadding":5,"title":"Counting rate (Hz)","titleFontSize":13.6,"titleX":-74,"titleY":0,"titleAngle":270,"titleAlign":"right","titleBaseline":"top"}}}},
   {"data":{"values":[{"d":326.51,"top":93,"tip":3.9},{"d":328.28,"top":93,"tip":3.9}]},"mark":{"type":"rule","color":"black","strokeWidth":1.2},"encoding":{"x":{"field":"d","type":"quantitative","scale":{"domain":[323.7,365.9],"nice":false,"zero":false},"axis":null},"y":{"field":"top","type":"quantitative","scale":{"type":"log","domain":[0.052,115],"nice":false},"axis":null},"y2":{"field":"tip"}}},
   {"data":{"values":[{"d":326.51,"top":93,"tip":3.9},{"d":328.28,"top":93,"tip":3.9}]},"mark":{"type":"point","shape":"M-1,-1.75L0,0L1,-1.75","size":289,"filled":false,"color":"black","strokeWidth":1.2,"opacity":1},"encoding":{"x":{"field":"d","type":"quantitative","scale":{"domain":[323.7,365.9],"nice":false,"zero":false},"axis":null},"y":{"field":"tip","type":"quantitative","scale":{"type":"log","domain":[0.052,115],"nice":false},"axis":null}}},
   {"data":{"values":[{"d":363.86,"r":20,"t":"GOES-8"}]},"mark":{"type":"text","font":"DejaVu Sans","fontSize":27,"align":"right","baseline":"alphabetic","color":"black"},"encoding":{
     "x":{"field":"d","type":"quantitative","scale":{"domain":[323.7,365.9],"nice":false,"zero":false},"axis":{"orient":"top","values":[324,325,326,327,328,329,330,331,332,333,334,335,336,337,338,339,340,341,342,343,344,345,346,347,348,349,350,351,352,353,354,355,356,357,358,359,360,361,362,363,364,365],"labels":false,"title":null,"offset":-10,"tickSize":10,"tickDash":{"condition":{"test":"datum.value % 5 === 0","value":[10,0]},"value":[5,5]},"tickDashOffset":{"condition":{"test":"datum.value % 5 === 0","value":0},"value":5}}},
     "y":{"field":"r","type":"quantitative","scale":{"type":"log","domain":[0.052,115],"nice":false},"axis":{"orient":"right","values":[0.06,0.07,0.08,0.09,0.1,0.2,0.3,0.4,0.5,0.6,0.7,0.8,0.9,1,2,3,4,5,6,7,8,9,10,20,30,40,50,60,70,80,90,100],"labels":false,"title":null,"offset":-10,"tickSize":10,"tickDash":{"condition":{"test":"indexof([0.1,1,10,100],datum.value)>=0","value":[10,0]},"value":[5,5]},"tickDashOffset":{"condition":{"test":"indexof([0.1,1,10,100],datum.value)>=0","value":0},"value":5}}},
     "text":{"field":"t"}}}
  ],"resolve":{"axis":{"x":"independent","y":"independent"}}},
  {"width":581,"height":111,"layer":[
   {"data":{"name":"n2"},"transform":[{"filter":"isValid(datum.lo)"}],"mark":{"type":"rule","color":"black","strokeWidth":1,"clip":true},"encoding":{"x":{"field":"d","type":"quantitative","scale":{"domain":[323.7,365.9],"nice":false,"zero":false},"axis":null},"y":{"field":"lo","type":"quantitative","scale":{"type":"log","domain":[0.00026,363],"nice":false},"axis":null},"y2":{"field":"hi"}}},
   {"data":{"name":"n2"},"mark":{"type":"point","shape":"circle","size":22,"filled":true,"fill":"white","stroke":"black","strokeWidth":1,"opacity":1},"encoding":{
     "x":{"field":"d","type":"quantitative","scale":{"domain":[323.7,365.9],"nice":false,"zero":false},"axis":{"orient":"bottom","values":[324,325,326,327,328,329,330,331,332,333,334,335,336,337,338,339,340,341,342,343,344,345,346,347,348,349,350,351,352,353,354,355,356,357,358,359,360,361,362,363,364,365],"offset":-10,"tickSize":10,"tickDash":{"condition":{"test":"datum.value % 5 === 0","value":[10,0]},"value":[5,5]},"tickDashOffset":{"condition":{"test":"datum.value % 5 === 0","value":0},"value":5},"labelExpr":"datum.value % 5 === 0 ? '' + datum.value : ''","labelFontSize":15,"labelPadding":6,"labelBaseline":"top","title":"Day of 1998 (UT)","titleFontSize":15,"titleX":581,"titleY":45,"titleAlign":"right","titleAnchor":"end","titleBaseline":"alphabetic"}},
     "y":{"field":"r","type":"quantitative","scale":{"type":"log","domain":[0.00026,363],"nice":false},"axis":{"orient":"left","values":[0.001,0.01,0.1,1,10,100],"offset":-8,"tickSize":8,"labelExpr":"datum.value==10?'10':datum.value==0.1?'10⁻¹':datum.value==0.001?'10⁻³':''","labelFontSize":16,"labelPadding":5,"title":null}}}},
   {"data":{"values":[{"d":356.09,"r":6.4,"t":"NINA"}]},"mark":{"type":"text","font":"DejaVu Sans","fontWeight":"bold","fontSize":21,"align":"left","baseline":"alphabetic","color":"black"},"encoding":{
     "x":{"field":"d","type":"quantitative","scale":{"domain":[323.7,365.9],"nice":false,"zero":false},"axis":{"orient":"top","values":[324,325,326,327,328,329,330,331,332,333,334,335,336,337,338,339,340,341,342,343,344,345,346,347,348,349,350,351,352,353,354,355,356,357,358,359,360,361,362,363,364,365],"labels":false,"title":null,"offset":-10,"tickSize":10,"tickDash":{"condition":{"test":"datum.value % 5 === 0","value":[10,0]},"value":[5,5]},"tickDashOffset":{"condition":{"test":"datum.value % 5 === 0","value":0},"value":5}}},
     "y":{"field":"r","type":"quantitative","scale":{"type":"log","domain":[0.00026,363],"nice":false},"axis":{"orient":"right","values":[0.001,0.01,0.1,1,10,100],"labels":false,"title":null,"offset":-8,"tickSize":8}},
     "text":{"field":"t"}}}
  ],"resolve":{"axis":{"x":"independent","y":"independent"}}}
 ],"spacing":0,"bounds":"flush"}
 ],"spacing":114}
],"spacing":0},
{"hconcat":[
 {"width":1,"height":1,"view":{"stroke":null},"data":{"values":[]},"mark":"point"},
 {"vconcat":[
 {"vconcat":[
  {"width":589,"height":110,"layer":[
   {"data":{"name":"g3"},"mark":{"type":"square","size":5,"color":"#808080","opacity":0.9},"encoding":{
     "x":{"field":"d","type":"quantitative","scale":{"domain":[19,26],"nice":false,"zero":false},"axis":{"orient":"bottom","values":[19,19.25,19.5,19.75,20,20.25,20.5,20.75,21,21.25,21.5,21.75,22,22.25,22.5,22.75,23,23.25,23.5,23.75,24,24.25,24.5,24.75,25,25.25,25.5,25.75,26],"labels":false,"title":null,"offset":-10,"tickSize":10,"tickDash":{"condition":{"test":"datum.value % 1 === 0","value":[10,0]},"value":[5,5]},"tickDashOffset":{"condition":{"test":"datum.value % 1 === 0","value":0},"value":5}}},
     "y":{"field":"r","type":"quantitative","scale":{"domain":[-0.4,20],"nice":false,"zero":false},"axis":{"orient":"left","values":[0,2,4,6,8,10,12,14,16,18,20],"offset":-10,"tickSize":10,"tickDash":{"condition":{"test":"datum.value % 10 === 0","value":[10,0]},"value":[5,5]},"tickDashOffset":{"condition":{"test":"datum.value % 10 === 0","value":0},"value":5},"labelExpr":"datum.value==20?'20':datum.value==10?'10':datum.value==0?'0':''","labelFontSize":19,"labelPadding":7,"title":"Counting rate (Hz)","titleFontSize":10.5,"titleX":-66,"titleY":0,"titleAngle":270,"titleAlign":"right","titleBaseline":"top"}}}},
   {"data":{"values":[{"d":20.85,"top":19.1,"tip":11.4},{"d":22.74,"top":19.5,"tip":11.3}]},"mark":{"type":"rule","color":"black","strokeWidth":1.2},"encoding":{"x":{"field":"d","type":"quantitative","scale":{"domain":[19,26],"nice":false,"zero":false},"axis":null},"y":{"field":"top","type":"quantitative","scale":{"domain":[-0.4,20],"nice":false,"zero":false},"axis":null},"y2":{"field":"tip"}}},
   {"data":{"values":[{"d":20.85,"top":19.1,"tip":11.4},{"d":22.74,"top":19.5,"tip":11.3}]},"mark":{"type":"point","shape":"M-1,-1.75L0,0L1,-1.75","size":289,"filled":false,"color":"black","strokeWidth":1.2,"opacity":1},"encoding":{"x":{"field":"d","type":"quantitative","scale":{"domain":[19,26],"nice":false,"zero":false},"axis":null},"y":{"field":"tip","type":"quantitative","scale":{"domain":[-0.4,20],"nice":false,"zero":false},"axis":null}}},
   {"data":{"values":[{"d":25.85,"r":14.9,"t":"GOES-8"}]},"mark":{"type":"text","font":"DejaVu Sans","fontSize":28,"align":"right","baseline":"alphabetic","color":"black"},"encoding":{
     "x":{"field":"d","type":"quantitative","scale":{"domain":[19,26],"nice":false,"zero":false},"axis":{"orient":"top","values":[19,19.25,19.5,19.75,20,20.25,20.5,20.75,21,21.25,21.5,21.75,22,22.25,22.5,22.75,23,23.25,23.5,23.75,24,24.25,24.5,24.75,25,25.25,25.5,25.75,26],"labels":false,"title":null,"offset":-10,"tickSize":10,"tickDash":{"condition":{"test":"datum.value % 1 === 0","value":[10,0]},"value":[5,5]},"tickDashOffset":{"condition":{"test":"datum.value % 1 === 0","value":0},"value":5}}},
     "y":{"field":"r","type":"quantitative","scale":{"domain":[-0.4,20],"nice":false,"zero":false},"axis":{"orient":"right","values":[0,2,4,6,8,10,12,14,16,18,20],"labels":false,"title":null,"offset":-10,"tickSize":10,"tickDash":{"condition":{"test":"datum.value % 10 === 0","value":[10,0]},"value":[5,5]},"tickDashOffset":{"condition":{"test":"datum.value % 10 === 0","value":0},"value":5}}},
     "text":{"field":"t"}}}
  ],"resolve":{"axis":{"x":"independent","y":"independent"}}},
  {"width":589,"height":101,"layer":[
   {"data":{"name":"n3"},"mark":{"type":"point","shape":"circle","size":22,"filled":true,"fill":"white","stroke":"black","strokeWidth":1,"opacity":1},"encoding":{
     "x":{"field":"d","type":"quantitative","scale":{"domain":[19,26],"nice":false,"zero":false},"axis":{"orient":"bottom","values":[19,19.25,19.5,19.75,20,20.25,20.5,20.75,21,21.25,21.5,21.75,22,22.25,22.5,22.75,23,23.25,23.5,23.75,24,24.25,24.5,24.75,25,25.25,25.5,25.75,26],"offset":-10,"tickSize":10,"tickDash":{"condition":{"test":"datum.value % 1 === 0","value":[10,0]},"value":[5,5]},"tickDashOffset":{"condition":{"test":"datum.value % 1 === 0","value":0},"value":5},"labelExpr":"datum.value % 1 === 0 ? '' + datum.value : ''","labelFontSize":19,"labelPadding":3,"labelBaseline":"top","title":"Day of 1999 (UT)","titleFontSize":15,"titleX":589,"titleY":50,"titleAlign":"right","titleAnchor":"end","titleBaseline":"alphabetic"}},
     "y":{"field":"r","type":"quantitative","scale":{"domain":[-0.5,5],"nice":false,"zero":false},"axis":{"orient":"left","values":[-0.5,0,0.5,1,1.5,2,2.5,3,3.5,4,4.5,5],"offset":-10,"tickSize":10,"tickDash":{"condition":{"test":"datum.value % 2 === 0","value":[10,0]},"value":[5,5]},"tickDashOffset":{"condition":{"test":"datum.value % 2 === 0","value":0},"value":5},"labelExpr":"datum.value==0?'0':datum.value==2?'2':datum.value==4?'4':''","labelFontSize":19,"labelPadding":7,"title":null}}}},
   {"data":{"values":[{"d":24.51,"r":3.47,"t":"NINA"}]},"mark":{"type":"text","font":"DejaVu Sans","fontWeight":"bold","fontSize":22,"align":"left","baseline":"alphabetic","color":"black"},"encoding":{
     "x":{"field":"d","type":"quantitative","scale":{"domain":[19,26],"nice":false,"zero":false},"axis":{"orient":"top","values":[19,19.25,19.5,19.75,20,20.25,20.5,20.75,21,21.25,21.5,21.75,22,22.25,22.5,22.75,23,23.25,23.5,23.75,24,24.25,24.5,24.75,25,25.25,25.5,25.75,26],"labels":false,"title":null,"offset":-10,"tickSize":10,"tickDash":{"condition":{"test":"datum.value % 1 === 0","value":[10,0]},"value":[5,5]},"tickDashOffset":{"condition":{"test":"datum.value % 1 === 0","value":0},"value":5}}},
     "y":{"field":"r","type":"quantitative","scale":{"domain":[-0.5,5],"nice":false,"zero":false},"axis":{"orient":"right","values":[-0.5,0,0.5,1,1.5,2,2.5,3,3.5,4,4.5,5],"labels":false,"title":null,"offset":-10,"tickSize":10,"tickDash":{"condition":{"test":"datum.value % 2 === 0","value":[10,0]},"value":[5,5]},"tickDashOffset":{"condition":{"test":"datum.value % 2 === 0","value":0},"value":5}}},
     "text":{"field":"t"}}}
  ],"resolve":{"axis":{"x":"independent","y":"independent"}}}
 ],"spacing":0,"bounds":"flush"},
 {"vconcat":[
  {"width":589,"height":110,"layer":[
   {"data":{"name":"g4"},"mark":{"type":"square","size":5,"color":"#888","opacity":0.9},"encoding":{
     "x":{"field":"d","type":"quantitative","scale":{"domain":[41,81],"nice":false,"zero":false},"axis":{"orient":"bottom","values":[41,42,43,44,45,46,47,48,49,50,51,52,53,54,55,56,57,58,59,60,61,62,63,64,65,66,67,68,69,70,71,72,73,74,75,76,77,78,79,80,81],"labels":false,"title":null,"offset":-10,"tickSize":10,"tickDash":{"condition":{"test":"datum.value % 5 === 0","value":[10,0]},"value":[5,5]},"tickDashOffset":{"condition":{"test":"datum.value % 5 === 0","value":0},"value":5}}},
     "y":{"field":"r","type":"quantitative","scale":{"domain":[0,1],"nice":false,"zero":false},"axis":{"orient":"left","values":[0,0.25,0.5,0.75,1],"offset":-10,"tickSize":10,"tickDash":{"condition":{"test":"datum.value % 0.5 === 0","value":[10,0]},"value":[5,5]},"tickDashOffset":{"condition":{"test":"datum.value % 0.5 === 0","value":0},"value":5},"labelExpr":"datum.value==1?'1':datum.value==0.5?'0.5':datum.value==0?'0':''","labelFontSize":17,"labelPadding":7,"title":"Counting rate (Hz)","titleFontSize":11,"titleX":-66,"titleY":-6,"titleAngle":270,"titleAlign":"right","titleBaseline":"top"}}}},
   {"data":{"values":[{"d":47.1,"top":0.9,"tip":0.5}]},"mark":{"type":"rule","color":"black","strokeWidth":1.2},"encoding":{"x":{"field":"d","type":"quantitative","scale":{"domain":[41,81],"nice":false,"zero":false},"axis":null},"y":{"field":"top","type":"quantitative","scale":{"domain":[0,1],"nice":false,"zero":false},"axis":null},"y2":{"field":"tip"}}},
   {"data":{"values":[{"d":47.1,"top":0.9,"tip":0.5}]},"mark":{"type":"point","shape":"M-1,-1.75L0,0L1,-1.75","size":289,"filled":false,"color":"black","strokeWidth":1.2,"opacity":1},"encoding":{"x":{"field":"d","type":"quantitative","scale":{"domain":[41,81],"nice":false,"zero":false},"axis":null},"y":{"field":"tip","type":"quantitative","scale":{"domain":[0,1],"nice":false,"zero":false},"axis":null}}},
   {"data":{"values":[{"d":80.65,"r":0.79,"t":"GOES-8"}]},"mark":{"type":"text","font":"DejaVu Sans","fontSize":28,"align":"right","baseline":"alphabetic","color":"black"},"encoding":{
     "x":{"field":"d","type":"quantitative","scale":{"domain":[41,81],"nice":false,"zero":false},"axis":{"orient":"top","values":[41,42,43,44,45,46,47,48,49,50,51,52,53,54,55,56,57,58,59,60,61,62,63,64,65,66,67,68,69,70,71,72,73,74,75,76,77,78,79,80,81],"labels":false,"title":null,"offset":-10,"tickSize":10,"tickDash":{"condition":{"test":"datum.value % 5 === 0","value":[10,0]},"value":[5,5]},"tickDashOffset":{"condition":{"test":"datum.value % 5 === 0","value":0},"value":5}}},
     "y":{"field":"r","type":"quantitative","scale":{"domain":[0,1],"nice":false,"zero":false},"axis":{"orient":"right","values":[0,0.25,0.5,0.75,1],"labels":false,"title":null,"offset":-10,"tickSize":10,"tickDash":{"condition":{"test":"datum.value % 0.5 === 0","value":[10,0]},"value":[5,5]},"tickDashOffset":{"condition":{"test":"datum.value % 0.5 === 0","value":0},"value":5}}},
     "text":{"field":"t"}}}
  ],"resolve":{"axis":{"x":"independent","y":"independent"}}},
  {"width":589,"height":110,"layer":[
   {"data":{"name":"n4"},"mark":{"type":"rule","color":"black","strokeWidth":1,"clip":true},"encoding":{"x":{"field":"d","type":"quantitative","scale":{"domain":[41,81],"nice":false,"zero":false},"axis":null},"y":{"field":"lo","type":"quantitative","scale":{"domain":[0,0.1],"nice":false,"zero":false},"axis":null},"y2":{"field":"hi"}}},
   {"data":{"name":"n4"},"mark":{"type":"point","shape":"circle","size":22,"filled":true,"fill":"white","stroke":"black","strokeWidth":1,"opacity":1},"encoding":{
     "x":{"field":"d","type":"quantitative","scale":{"domain":[41,81],"nice":false,"zero":false},"axis":{"orient":"bottom","values":[41,42,43,44,45,46,47,48,49,50,51,52,53,54,55,56,57,58,59,60,61,62,63,64,65,66,67,68,69,70,71,72,73,74,75,76,77,78,79,80,81],"offset":-10,"tickSize":10,"tickDash":{"condition":{"test":"datum.value % 5 === 0","value":[10,0]},"value":[5,5]},"tickDashOffset":{"condition":{"test":"datum.value % 5 === 0","value":0},"value":5},"labelExpr":"datum.value % 5 === 0 ? '' + datum.value : ''","labelFontSize":16,"labelPadding":1,"labelBaseline":"top","title":"Day of 1999 (UT)","titleFontSize":15,"titleX":589,"titleY":53,"titleAlign":"right","titleAnchor":"end","titleBaseline":"alphabetic"}},
     "y":{"field":"r","type":"quantitative","scale":{"domain":[0,0.1],"nice":false,"zero":false},"axis":{"orient":"left","values":[0,0.01,0.02,0.03,0.04,0.05,0.06,0.07,0.08,0.09,0.1],"offset":-10,"tickSize":10,"tickDash":{"condition":{"test":"datum.value==0||datum.value==0.05||datum.value==0.1","value":[10,0]},"value":[5,5]},"tickDashOffset":{"condition":{"test":"datum.value==0||datum.value==0.05||datum.value==0.1","value":0},"value":5},"labelExpr":"datum.value==0.1?'0.1':datum.value==0.05?'0.05':datum.value==0?'0':''","labelFontSize":17,"labelPadding":7,"title":null}}}},
   {"data":{"values":[{"d":73.18,"r":0.069,"t":"NINA"}]},"mark":{"type":"text","font":"DejaVu Sans","fontWeight":"bold","fontSize":21,"align":"left","baseline":"alphabetic","color":"black"},"encoding":{
     "x":{"field":"d","type":"quantitative","scale":{"domain":[41,81],"nice":false,"zero":false},"axis":{"orient":"top","values":[41,42,43,44,45,46,47,48,49,50,51,52,53,54,55,56,57,58,59,60,61,62,63,64,65,66,67,68,69,70,71,72,73,74,75,76,77,78,79,80,81],"labels":false,"title":null,"offset":-10,"tickSize":10,"tickDash":{"condition":{"test":"datum.value % 5 === 0","value":[10,0]},"value":[5,5]},"tickDashOffset":{"condition":{"test":"datum.value % 5 === 0","value":0},"value":5}}},
     "y":{"field":"r","type":"quantitative","scale":{"domain":[0,0.1],"nice":false,"zero":false},"axis":{"orient":"right","values":[0,0.01,0.02,0.03,0.04,0.05,0.06,0.07,0.08,0.09,0.1],"labels":false,"title":null,"offset":-10,"tickSize":10,"tickDash":{"condition":{"test":"datum.value==0||datum.value==0.05||datum.value==0.1","value":[10,0]},"value":[5,5]},"tickDashOffset":{"condition":{"test":"datum.value==0||datum.value==0.05||datum.value==0.1","value":0},"value":5}}},
     "text":{"field":"t"}}}
  ],"resolve":{"axis":{"x":"independent","y":"independent"}}}
 ],"spacing":0,"bounds":"flush"}
 ],"spacing":122}
],"spacing":0}
],
"spacing":92
}
